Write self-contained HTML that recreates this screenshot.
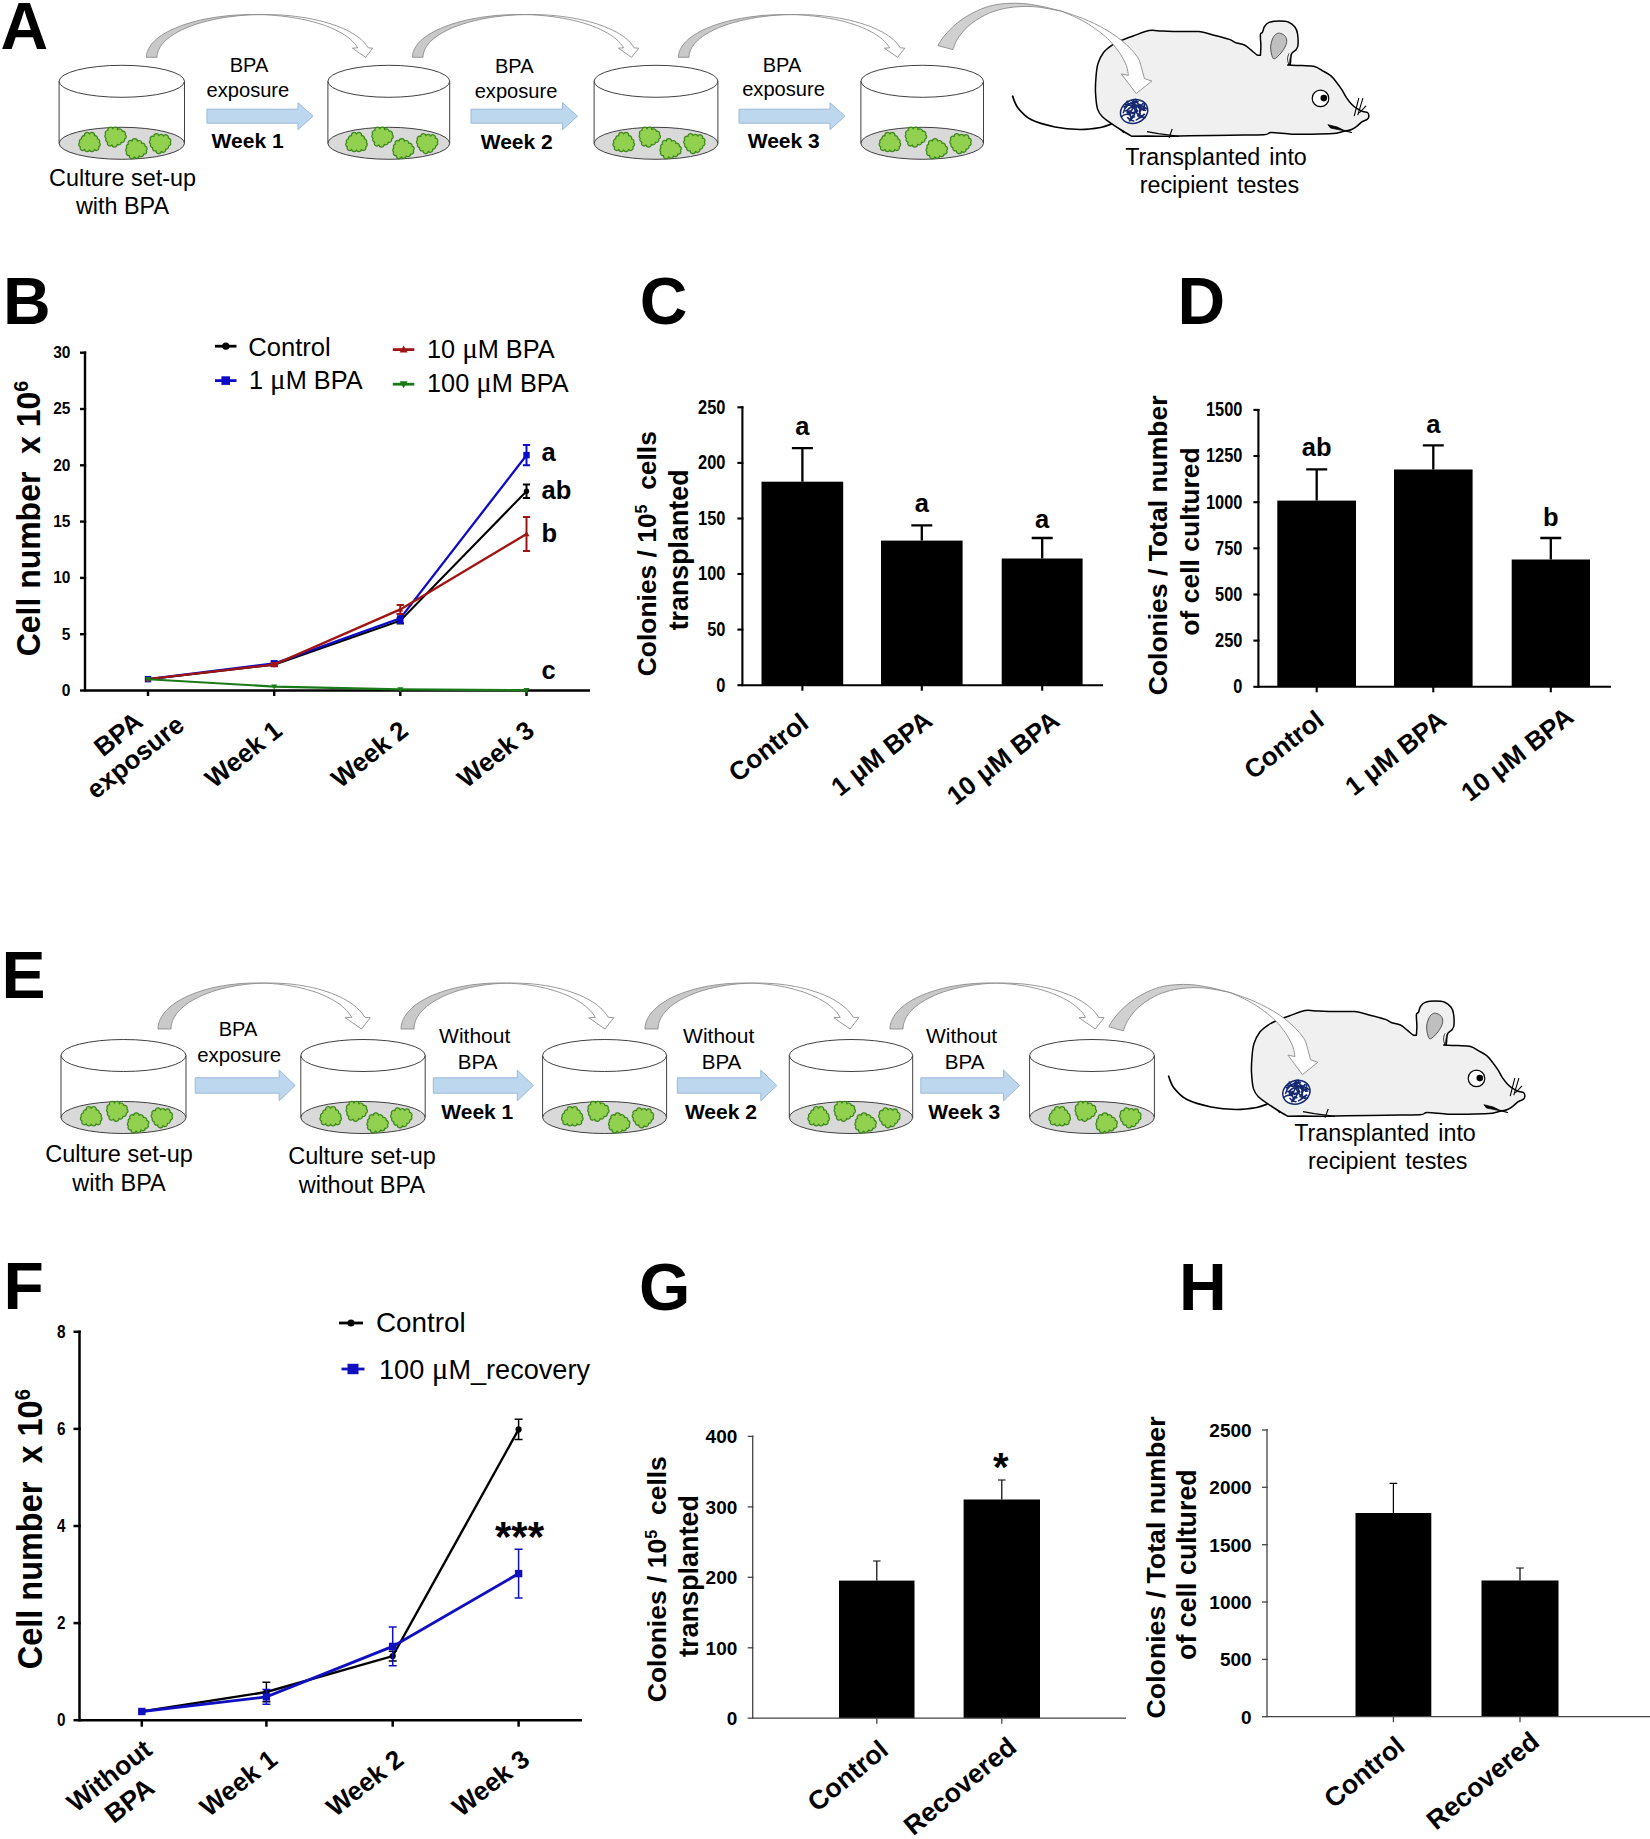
<!DOCTYPE html>
<html><head><meta charset="utf-8"><title>Figure</title>
<style>html,body{margin:0;padding:0;background:#fff}svg{display:block}</style></head>
<body>
<svg width="1650" height="1839" viewBox="0 0 1650 1839">
<rect width="1650" height="1839" fill="#fff"/>
<text x="0.5" y="48.9" font-family='"Liberation Sans", sans-serif' font-size="66.0" font-weight="bold" text-anchor="start" fill="#000">A</text>
<ellipse cx="121.8" cy="143.3" rx="62.7" ry="16.0" fill="#d9d9d9" stroke="#404040" stroke-width="1"/>
<ellipse cx="121.8" cy="81.3" rx="62.7" ry="16.0" fill="#fff" stroke="#404040" stroke-width="1"/>
<path d="M59.1,81.3V143.3 M184.5,81.3V143.3" stroke="#404040" stroke-width="1" fill="none"/>
<path d="M99.3,142.6 A2.5,2.4 0 0 1 98.6,146.8 A2.5,2.4 0 0 1 94.4,149.4 A2.5,2.4 0 0 1 89.5,149.9 A2.5,2.4 0 0 1 84.6,149.4 A2.5,2.4 0 0 1 80.4,146.8 A2.5,2.4 0 0 1 79.7,142.6 A2.5,2.4 0 0 1 81.6,138.9 A2.5,2.4 0 0 1 84.6,135.8 A2.5,2.4 0 0 1 89.5,134.1 A2.5,2.4 0 0 1 94.4,135.8 A2.5,2.4 0 0 1 97.4,138.9 A2.5,2.4 0 0 1 99.3,142.6Z" fill="#92d050" stroke="#3a851a" stroke-width="1.2" stroke-linejoin="round"/>
<path d="M124.5,139.1 A2.5,2.4 0 0 1 121.2,142.1 A2.5,2.4 0 0 1 117.2,144.3 A2.5,2.4 0 0 1 111.9,144.8 A2.5,2.4 0 0 1 107.7,142.1 A2.5,2.4 0 0 1 106.1,138.3 A2.5,2.4 0 0 1 105.7,134.4 A2.5,2.4 0 0 1 107.9,130.5 A2.5,2.4 0 0 1 112.8,128.9 A2.5,2.4 0 0 1 117.7,129.7 A2.5,2.4 0 0 1 122.1,131.4 A2.5,2.4 0 0 1 125.2,134.8 A2.5,2.4 0 0 1 124.5,139.1Z" fill="#92d050" stroke="#3a851a" stroke-width="1.2" stroke-linejoin="round"/>
<path d="M146.3,150.3 A2.5,2.4 0 0 1 143.6,154.0 A2.5,2.4 0 0 1 139.2,155.8 A2.5,2.4 0 0 1 134.4,156.8 A2.5,2.4 0 0 1 129.4,155.6 A2.5,2.4 0 0 1 126.7,151.9 A2.5,2.4 0 0 1 126.9,147.9 A2.5,2.4 0 0 1 128.3,144.1 A2.5,2.4 0 0 1 132.1,141.1 A2.5,2.4 0 0 1 137.4,141.2 A2.5,2.4 0 0 1 141.6,143.3 A2.5,2.4 0 0 1 145.0,146.1 A2.5,2.4 0 0 1 146.3,150.3Z" fill="#92d050" stroke="#3a851a" stroke-width="1.2" stroke-linejoin="round"/>
<path d="M168.5,146.0 A2.5,2.4 0 0 1 165.6,149.1 A2.5,2.4 0 0 1 161.3,151.4 A2.5,2.4 0 0 1 156.0,150.7 A2.5,2.4 0 0 1 152.6,147.6 A2.5,2.4 0 0 1 150.7,144.0 A2.5,2.4 0 0 1 150.5,139.9 A2.5,2.4 0 0 1 153.8,136.5 A2.5,2.4 0 0 1 158.9,135.7 A2.5,2.4 0 0 1 163.6,136.2 A2.5,2.4 0 0 1 168.2,138.1 A2.5,2.4 0 0 1 170.2,142.1 A2.5,2.4 0 0 1 168.5,146.0Z" fill="#92d050" stroke="#3a851a" stroke-width="1.2" stroke-linejoin="round"/>
<ellipse cx="388.8" cy="143.3" rx="60.9" ry="16.0" fill="#d9d9d9" stroke="#404040" stroke-width="1"/>
<ellipse cx="388.8" cy="81.3" rx="60.9" ry="16.0" fill="#fff" stroke="#404040" stroke-width="1"/>
<path d="M327.9,81.3V143.3 M449.7,81.3V143.3" stroke="#404040" stroke-width="1" fill="none"/>
<path d="M366.3,142.6 A2.5,2.4 0 0 1 365.6,146.8 A2.5,2.4 0 0 1 361.4,149.4 A2.5,2.4 0 0 1 356.5,149.9 A2.5,2.4 0 0 1 351.6,149.4 A2.5,2.4 0 0 1 347.4,146.8 A2.5,2.4 0 0 1 346.7,142.6 A2.5,2.4 0 0 1 348.6,138.9 A2.5,2.4 0 0 1 351.6,135.8 A2.5,2.4 0 0 1 356.5,134.1 A2.5,2.4 0 0 1 361.4,135.8 A2.5,2.4 0 0 1 364.4,138.9 A2.5,2.4 0 0 1 366.3,142.6Z" fill="#92d050" stroke="#3a851a" stroke-width="1.2" stroke-linejoin="round"/>
<path d="M391.5,139.1 A2.5,2.4 0 0 1 388.2,142.1 A2.5,2.4 0 0 1 384.2,144.3 A2.5,2.4 0 0 1 378.9,144.8 A2.5,2.4 0 0 1 374.7,142.1 A2.5,2.4 0 0 1 373.1,138.3 A2.5,2.4 0 0 1 372.7,134.4 A2.5,2.4 0 0 1 374.9,130.5 A2.5,2.4 0 0 1 379.8,128.9 A2.5,2.4 0 0 1 384.7,129.7 A2.5,2.4 0 0 1 389.1,131.4 A2.5,2.4 0 0 1 392.2,134.8 A2.5,2.4 0 0 1 391.5,139.1Z" fill="#92d050" stroke="#3a851a" stroke-width="1.2" stroke-linejoin="round"/>
<path d="M413.3,150.3 A2.5,2.4 0 0 1 410.6,154.0 A2.5,2.4 0 0 1 406.2,155.8 A2.5,2.4 0 0 1 401.4,156.8 A2.5,2.4 0 0 1 396.4,155.6 A2.5,2.4 0 0 1 393.7,151.9 A2.5,2.4 0 0 1 393.9,147.9 A2.5,2.4 0 0 1 395.3,144.1 A2.5,2.4 0 0 1 399.1,141.1 A2.5,2.4 0 0 1 404.4,141.2 A2.5,2.4 0 0 1 408.6,143.3 A2.5,2.4 0 0 1 412.0,146.1 A2.5,2.4 0 0 1 413.3,150.3Z" fill="#92d050" stroke="#3a851a" stroke-width="1.2" stroke-linejoin="round"/>
<path d="M435.5,146.0 A2.5,2.4 0 0 1 432.6,149.1 A2.5,2.4 0 0 1 428.3,151.4 A2.5,2.4 0 0 1 423.0,150.7 A2.5,2.4 0 0 1 419.6,147.6 A2.5,2.4 0 0 1 417.7,144.0 A2.5,2.4 0 0 1 417.5,139.9 A2.5,2.4 0 0 1 420.8,136.5 A2.5,2.4 0 0 1 425.9,135.7 A2.5,2.4 0 0 1 430.6,136.2 A2.5,2.4 0 0 1 435.2,138.1 A2.5,2.4 0 0 1 437.2,142.1 A2.5,2.4 0 0 1 435.5,146.0Z" fill="#92d050" stroke="#3a851a" stroke-width="1.2" stroke-linejoin="round"/>
<ellipse cx="656.0" cy="143.3" rx="61.9" ry="16.0" fill="#d9d9d9" stroke="#404040" stroke-width="1"/>
<ellipse cx="656.0" cy="81.3" rx="61.9" ry="16.0" fill="#fff" stroke="#404040" stroke-width="1"/>
<path d="M594.1,81.3V143.3 M717.9,81.3V143.3" stroke="#404040" stroke-width="1" fill="none"/>
<path d="M633.5,142.6 A2.5,2.4 0 0 1 632.8,146.8 A2.5,2.4 0 0 1 628.6,149.4 A2.5,2.4 0 0 1 623.7,149.9 A2.5,2.4 0 0 1 618.8,149.4 A2.5,2.4 0 0 1 614.6,146.8 A2.5,2.4 0 0 1 613.9,142.6 A2.5,2.4 0 0 1 615.8,138.9 A2.5,2.4 0 0 1 618.8,135.8 A2.5,2.4 0 0 1 623.7,134.1 A2.5,2.4 0 0 1 628.6,135.8 A2.5,2.4 0 0 1 631.6,138.9 A2.5,2.4 0 0 1 633.5,142.6Z" fill="#92d050" stroke="#3a851a" stroke-width="1.2" stroke-linejoin="round"/>
<path d="M658.7,139.1 A2.5,2.4 0 0 1 655.4,142.1 A2.5,2.4 0 0 1 651.4,144.3 A2.5,2.4 0 0 1 646.1,144.8 A2.5,2.4 0 0 1 641.9,142.1 A2.5,2.4 0 0 1 640.3,138.3 A2.5,2.4 0 0 1 639.9,134.4 A2.5,2.4 0 0 1 642.1,130.5 A2.5,2.4 0 0 1 647.0,128.9 A2.5,2.4 0 0 1 651.9,129.7 A2.5,2.4 0 0 1 656.3,131.4 A2.5,2.4 0 0 1 659.4,134.8 A2.5,2.4 0 0 1 658.7,139.1Z" fill="#92d050" stroke="#3a851a" stroke-width="1.2" stroke-linejoin="round"/>
<path d="M680.5,150.3 A2.5,2.4 0 0 1 677.8,154.0 A2.5,2.4 0 0 1 673.4,155.8 A2.5,2.4 0 0 1 668.6,156.8 A2.5,2.4 0 0 1 663.6,155.6 A2.5,2.4 0 0 1 660.9,151.9 A2.5,2.4 0 0 1 661.1,147.9 A2.5,2.4 0 0 1 662.5,144.1 A2.5,2.4 0 0 1 666.3,141.1 A2.5,2.4 0 0 1 671.6,141.2 A2.5,2.4 0 0 1 675.8,143.3 A2.5,2.4 0 0 1 679.2,146.1 A2.5,2.4 0 0 1 680.5,150.3Z" fill="#92d050" stroke="#3a851a" stroke-width="1.2" stroke-linejoin="round"/>
<path d="M702.7,146.0 A2.5,2.4 0 0 1 699.8,149.1 A2.5,2.4 0 0 1 695.5,151.4 A2.5,2.4 0 0 1 690.2,150.7 A2.5,2.4 0 0 1 686.8,147.6 A2.5,2.4 0 0 1 684.9,144.0 A2.5,2.4 0 0 1 684.7,139.9 A2.5,2.4 0 0 1 688.0,136.5 A2.5,2.4 0 0 1 693.1,135.7 A2.5,2.4 0 0 1 697.8,136.2 A2.5,2.4 0 0 1 702.4,138.1 A2.5,2.4 0 0 1 704.4,142.1 A2.5,2.4 0 0 1 702.7,146.0Z" fill="#92d050" stroke="#3a851a" stroke-width="1.2" stroke-linejoin="round"/>
<ellipse cx="922.2" cy="143.3" rx="61.3" ry="16.0" fill="#d9d9d9" stroke="#404040" stroke-width="1"/>
<ellipse cx="922.2" cy="81.3" rx="61.3" ry="16.0" fill="#fff" stroke="#404040" stroke-width="1"/>
<path d="M860.9,81.3V143.3 M983.5,81.3V143.3" stroke="#404040" stroke-width="1" fill="none"/>
<path d="M899.7,142.6 A2.5,2.4 0 0 1 899.0,146.8 A2.5,2.4 0 0 1 894.8,149.4 A2.5,2.4 0 0 1 889.9,149.9 A2.5,2.4 0 0 1 885.0,149.4 A2.5,2.4 0 0 1 880.8,146.8 A2.5,2.4 0 0 1 880.1,142.6 A2.5,2.4 0 0 1 882.0,138.9 A2.5,2.4 0 0 1 885.0,135.8 A2.5,2.4 0 0 1 889.9,134.1 A2.5,2.4 0 0 1 894.8,135.8 A2.5,2.4 0 0 1 897.8,138.9 A2.5,2.4 0 0 1 899.7,142.6Z" fill="#92d050" stroke="#3a851a" stroke-width="1.2" stroke-linejoin="round"/>
<path d="M924.9,139.1 A2.5,2.4 0 0 1 921.6,142.1 A2.5,2.4 0 0 1 917.6,144.3 A2.5,2.4 0 0 1 912.3,144.8 A2.5,2.4 0 0 1 908.1,142.1 A2.5,2.4 0 0 1 906.5,138.3 A2.5,2.4 0 0 1 906.1,134.4 A2.5,2.4 0 0 1 908.3,130.5 A2.5,2.4 0 0 1 913.2,128.9 A2.5,2.4 0 0 1 918.1,129.7 A2.5,2.4 0 0 1 922.5,131.4 A2.5,2.4 0 0 1 925.6,134.8 A2.5,2.4 0 0 1 924.9,139.1Z" fill="#92d050" stroke="#3a851a" stroke-width="1.2" stroke-linejoin="round"/>
<path d="M946.7,150.3 A2.5,2.4 0 0 1 944.0,154.0 A2.5,2.4 0 0 1 939.6,155.8 A2.5,2.4 0 0 1 934.8,156.8 A2.5,2.4 0 0 1 929.8,155.6 A2.5,2.4 0 0 1 927.1,151.9 A2.5,2.4 0 0 1 927.3,147.9 A2.5,2.4 0 0 1 928.7,144.1 A2.5,2.4 0 0 1 932.5,141.1 A2.5,2.4 0 0 1 937.8,141.2 A2.5,2.4 0 0 1 942.0,143.3 A2.5,2.4 0 0 1 945.4,146.1 A2.5,2.4 0 0 1 946.7,150.3Z" fill="#92d050" stroke="#3a851a" stroke-width="1.2" stroke-linejoin="round"/>
<path d="M968.9,146.0 A2.5,2.4 0 0 1 966.0,149.1 A2.5,2.4 0 0 1 961.7,151.4 A2.5,2.4 0 0 1 956.4,150.7 A2.5,2.4 0 0 1 953.0,147.6 A2.5,2.4 0 0 1 951.1,144.0 A2.5,2.4 0 0 1 950.9,139.9 A2.5,2.4 0 0 1 954.2,136.5 A2.5,2.4 0 0 1 959.3,135.7 A2.5,2.4 0 0 1 964.0,136.2 A2.5,2.4 0 0 1 968.6,138.1 A2.5,2.4 0 0 1 970.6,142.1 A2.5,2.4 0 0 1 968.9,146.0Z" fill="#92d050" stroke="#3a851a" stroke-width="1.2" stroke-linejoin="round"/>
<path d="M206.9,109.2 H298.0 V102.7 L313.0,116.2 L298.0,129.7 V123.2 H206.9 Z" fill="#bdd7ee" stroke="#9db9d9" stroke-width="1"/>
<text x="249.0" y="71.7" font-family='"Liberation Sans", sans-serif' font-size="20.0" text-anchor="middle" fill="#000">BPA</text>
<text x="247.9" y="96.8" font-family='"Liberation Sans", sans-serif' font-size="20.1" text-anchor="middle" fill="#000">exposure</text>
<text x="247.6" y="148.0" font-family='"Liberation Sans", sans-serif' font-size="21.0" font-weight="bold" text-anchor="middle" fill="#000">Week 1</text>
<path d="M471.0,109.2 H562.5 V102.7 L577.5,116.2 L562.5,129.7 V123.2 H471.0 Z" fill="#bdd7ee" stroke="#9db9d9" stroke-width="1"/>
<text x="514.3" y="72.5" font-family='"Liberation Sans", sans-serif' font-size="20.0" text-anchor="middle" fill="#000">BPA</text>
<text x="516.0" y="98.1" font-family='"Liberation Sans", sans-serif' font-size="20.1" text-anchor="middle" fill="#000">exposure</text>
<text x="516.7" y="148.8" font-family='"Liberation Sans", sans-serif' font-size="21.0" font-weight="bold" text-anchor="middle" fill="#000">Week 2</text>
<path d="M739.0,109.2 H830.0 V102.7 L845.0,116.2 L830.0,129.7 V123.2 H739.0 Z" fill="#bdd7ee" stroke="#9db9d9" stroke-width="1"/>
<text x="782.0" y="71.5" font-family='"Liberation Sans", sans-serif' font-size="20.0" text-anchor="middle" fill="#000">BPA</text>
<text x="783.5" y="96.0" font-family='"Liberation Sans", sans-serif' font-size="20.1" text-anchor="middle" fill="#000">exposure</text>
<text x="783.7" y="147.5" font-family='"Liberation Sans", sans-serif' font-size="21.0" font-weight="bold" text-anchor="middle" fill="#000">Week 3</text>
<path d="M146.4,57.3 L146.6,54.4 L147.4,51.5 L148.6,48.7 L150.3,45.9 L152.4,43.1 L155.1,40.4 L158.1,37.8 L161.6,35.3 L165.5,32.9 L169.9,30.5 L174.6,28.4 L179.6,26.3 L185.0,24.4 L190.7,22.6 L196.7,21.0 L203.0,19.5 L209.4,18.3 L216.1,17.2 L223.0,16.3 L230.0,15.5 L237.1,15.0 L244.2,14.7 L251.4,14.5 L258.6,14.6 L258.6,14.6 L251.9,14.8 L245.2,15.2 L238.6,15.7 L232.0,16.5 L225.6,17.3 L219.4,18.4 L213.3,19.6 L207.4,21.0 L201.8,22.5 L196.4,24.1 L191.3,25.9 L186.5,27.8 L182.0,29.8 L177.8,32.0 L173.9,34.2 L170.5,36.5 L167.4,38.9 L164.6,41.4 L162.3,44.0 L160.4,46.6 L158.9,49.2 L157.9,51.9 L157.2,54.6 L157.0,57.3Z" fill="#c9c9c9" stroke="#8c8c8c" stroke-width="0.9" stroke-linejoin="round"/>
<path d="M258.6,14.6 L264.9,14.5 L271.1,14.6 L277.3,14.8 L283.4,15.2 L289.5,15.7 L295.5,16.4 L301.4,17.2 L307.1,18.1 L312.7,19.2 L318.2,20.4 L323.5,21.7 L328.5,23.2 L333.4,24.7 L338.0,26.4 L342.3,28.2 L346.4,30.1 L350.3,32.0 L353.8,34.1 L357.0,36.2 L359.9,38.4 L362.5,40.7 L364.7,43.0 L366.6,45.4 L368.2,47.8 L372.8,48.2 L365.6,57.3 L352.4,48.2 L357.6,47.8 L356.2,45.5 L354.4,43.3 L352.4,41.2 L350.1,39.0 L347.5,37.0 L344.6,35.0 L341.4,33.0 L338.0,31.2 L334.4,29.4 L330.5,27.7 L326.4,26.0 L322.1,24.5 L317.5,23.1 L312.8,21.7 L307.9,20.5 L302.9,19.4 L297.7,18.4 L292.4,17.5 L287.0,16.7 L281.4,16.0 L275.8,15.5 L270.1,15.0 L264.4,14.7 L258.6,14.6Z" fill="#fff" stroke="#8c8c8c" stroke-width="0.9" stroke-linejoin="round"/>
<path d="M412.4,57.3 L412.6,54.4 L413.4,51.5 L414.6,48.7 L416.3,45.9 L418.4,43.1 L421.1,40.4 L424.1,37.8 L427.6,35.3 L431.5,32.9 L435.9,30.5 L440.6,28.4 L445.6,26.3 L451.0,24.4 L456.7,22.6 L462.7,21.0 L469.0,19.5 L475.4,18.3 L482.1,17.2 L489.0,16.3 L496.0,15.5 L503.1,15.0 L510.2,14.7 L517.4,14.5 L524.7,14.6 L524.7,14.6 L517.9,14.8 L511.2,15.2 L504.6,15.7 L498.0,16.5 L491.6,17.3 L485.4,18.4 L479.3,19.6 L473.4,21.0 L467.8,22.5 L462.4,24.1 L457.3,25.9 L452.5,27.8 L448.0,29.8 L443.8,32.0 L439.9,34.2 L436.5,36.5 L433.4,38.9 L430.6,41.4 L428.3,44.0 L426.4,46.6 L424.9,49.2 L423.9,51.9 L423.2,54.6 L423.0,57.3Z" fill="#c9c9c9" stroke="#8c8c8c" stroke-width="0.9" stroke-linejoin="round"/>
<path d="M524.7,14.6 L530.9,14.5 L537.1,14.6 L543.3,14.8 L549.4,15.2 L555.5,15.7 L561.5,16.4 L567.4,17.2 L573.1,18.1 L578.7,19.2 L584.2,20.4 L589.5,21.7 L594.5,23.2 L599.4,24.7 L604.0,26.4 L608.3,28.2 L612.4,30.1 L616.3,32.0 L619.8,34.1 L623.0,36.2 L625.9,38.4 L628.5,40.7 L630.7,43.0 L632.6,45.4 L634.2,47.8 L638.8,48.2 L631.6,57.3 L618.4,48.2 L623.6,47.8 L622.2,45.5 L620.4,43.3 L618.4,41.2 L616.1,39.0 L613.5,37.0 L610.6,35.0 L607.4,33.0 L604.0,31.2 L600.4,29.4 L596.5,27.7 L592.4,26.0 L588.1,24.5 L583.5,23.1 L578.8,21.7 L573.9,20.5 L568.9,19.4 L563.7,18.4 L558.4,17.5 L553.0,16.7 L547.4,16.0 L541.8,15.5 L536.1,15.0 L530.4,14.7 L524.7,14.6Z" fill="#fff" stroke="#8c8c8c" stroke-width="0.9" stroke-linejoin="round"/>
<path d="M678.4,57.3 L678.6,54.4 L679.4,51.5 L680.6,48.7 L682.3,45.9 L684.4,43.1 L687.1,40.4 L690.1,37.8 L693.6,35.3 L697.5,32.9 L701.9,30.5 L706.6,28.4 L711.6,26.3 L717.0,24.4 L722.7,22.6 L728.7,21.0 L735.0,19.5 L741.4,18.3 L748.1,17.2 L755.0,16.3 L762.0,15.5 L769.1,15.0 L776.2,14.7 L783.4,14.5 L790.7,14.6 L790.7,14.6 L783.9,14.8 L777.2,15.2 L770.6,15.7 L764.0,16.5 L757.6,17.3 L751.4,18.4 L745.3,19.6 L739.4,21.0 L733.8,22.5 L728.4,24.1 L723.3,25.9 L718.5,27.8 L714.0,29.8 L709.8,32.0 L705.9,34.2 L702.5,36.5 L699.4,38.9 L696.6,41.4 L694.3,44.0 L692.4,46.6 L690.9,49.2 L689.9,51.9 L689.2,54.6 L689.0,57.3Z" fill="#c9c9c9" stroke="#8c8c8c" stroke-width="0.9" stroke-linejoin="round"/>
<path d="M790.7,14.6 L796.9,14.5 L803.1,14.6 L809.3,14.8 L815.4,15.2 L821.5,15.7 L827.5,16.4 L833.4,17.2 L839.1,18.1 L844.7,19.2 L850.2,20.4 L855.5,21.7 L860.5,23.2 L865.4,24.7 L870.0,26.4 L874.3,28.2 L878.4,30.1 L882.3,32.0 L885.8,34.1 L889.0,36.2 L891.9,38.4 L894.5,40.7 L896.7,43.0 L898.6,45.4 L900.2,47.8 L904.8,48.2 L897.6,57.3 L884.4,48.2 L889.6,47.8 L888.2,45.5 L886.4,43.3 L884.4,41.2 L882.1,39.0 L879.5,37.0 L876.6,35.0 L873.4,33.0 L870.0,31.2 L866.4,29.4 L862.5,27.7 L858.4,26.0 L854.1,24.5 L849.5,23.1 L844.8,21.7 L839.9,20.5 L834.9,19.4 L829.7,18.4 L824.4,17.5 L819.0,16.7 L813.4,16.0 L807.8,15.5 L802.1,15.0 L796.4,14.7 L790.7,14.6Z" fill="#fff" stroke="#8c8c8c" stroke-width="0.9" stroke-linejoin="round"/>
<text x="122.5" y="186.0" font-family='"Liberation Sans", sans-serif' font-size="23.4" text-anchor="middle" fill="#000">Culture set-up</text>
<text x="122.5" y="214.0" font-family='"Liberation Sans", sans-serif' font-size="23.4" text-anchor="middle" fill="#000">with BPA</text>
<g transform="translate(0.0,0.0)">
<path d="M1012.6,96.2 C1013.5,98.2 1014.9,104.1 1018.0,108.0 C1021.1,111.9 1024.8,116.4 1031.0,119.6 C1037.2,122.8 1046.8,125.3 1055.0,127.0 C1063.2,128.7 1072.4,129.4 1080.0,129.5 C1087.6,129.6 1095.3,128.4 1100.6,127.5 C1105.9,126.5 1110.0,124.4 1111.9,123.8" fill="none" stroke="#000" stroke-width="1.7" stroke-linecap="round"/>
<path d="M1131.5,136.2 C1129.8,135.2 1124.5,132.1 1121.2,130.0 C1117.9,127.9 1115.0,126.0 1111.9,123.8 C1108.8,121.6 1105.1,119.6 1102.7,117.1 C1100.3,114.6 1098.7,113.0 1097.5,108.9 C1096.3,104.8 1095.8,97.7 1095.5,92.4 C1095.2,87.1 1095.6,81.8 1096.0,77.0 C1096.4,72.2 1096.7,67.7 1098.0,63.6 C1099.3,59.5 1101.2,55.4 1103.7,52.2 C1106.2,49.0 1110.1,46.5 1113.0,44.5 C1115.9,42.5 1117.8,41.9 1121.2,40.4 C1124.6,38.9 1129.0,37.4 1133.6,35.8 C1138.2,34.2 1144.2,31.4 1149.0,30.6 C1153.8,29.8 1156.7,30.9 1162.4,31.1 C1168.1,31.3 1177.0,31.5 1183.0,31.6 C1189.0,31.7 1193.3,31.0 1198.5,31.6 C1203.7,32.2 1208.8,33.9 1214.0,35.2 C1219.2,36.5 1225.9,38.2 1229.4,39.4 C1232.9,40.6 1232.7,41.6 1235.2,42.5 C1237.7,43.4 1241.8,43.8 1244.4,45.0 C1247.0,46.2 1248.5,48.1 1250.6,49.7 C1252.7,51.3 1255.2,53.9 1256.8,54.8 C1258.4,55.7 1259.8,55.2 1260.4,55.3 L1260.4,55.3 C1260.5,53.8 1260.9,49.4 1260.9,46.0 C1260.9,42.6 1260.1,37.0 1260.4,34.7 C1260.7,32.4 1261.8,33.6 1262.5,32.2 C1263.2,30.8 1263.4,28.1 1264.5,26.5 C1265.6,24.9 1266.7,23.3 1269.2,22.4 C1271.7,21.5 1276.2,21.1 1279.5,21.1 C1282.8,21.1 1286.1,21.2 1288.7,22.2 C1291.3,23.2 1293.4,25.1 1294.9,27.0 C1296.4,28.9 1297.0,30.7 1297.5,33.7 C1298.0,36.7 1298.2,42.3 1298.0,45.0 C1297.8,47.7 1297.0,48.3 1296.0,49.7 C1295.0,51.1 1292.7,51.8 1291.8,53.3 C1290.9,54.8 1291.0,56.7 1290.8,58.4 C1290.5,60.1 1290.8,62.5 1290.3,63.6 C1289.8,64.7 1288.1,64.8 1287.7,65.1 L1287.7,65.1 C1290.1,65.2 1297.6,65.4 1302.1,65.6 C1306.6,65.8 1311.1,65.6 1314.5,66.5 C1317.9,67.4 1320.0,69.2 1322.7,70.8 C1325.5,72.4 1328.6,73.8 1331.0,75.9 C1333.4,78.0 1335.3,80.8 1337.2,83.2 C1339.1,85.6 1340.8,88.0 1342.3,90.4 C1343.8,92.8 1344.9,95.3 1346.4,97.6 C1348.0,99.9 1349.9,102.5 1351.6,104.3 C1353.3,106.1 1354.8,107.2 1356.7,108.4 C1358.6,109.6 1361.1,110.8 1362.9,111.5 C1364.7,112.2 1366.5,111.7 1367.5,112.5 C1368.5,113.3 1368.9,115.0 1368.9,116.1 C1368.9,117.2 1368.7,118.2 1367.5,119.2 C1366.3,120.2 1363.7,120.6 1361.9,121.8 C1360.1,123.0 1358.4,125.1 1356.7,126.4 C1355.0,127.7 1353.1,128.8 1351.6,129.5 C1350.1,130.2 1349.2,130.1 1347.5,130.5 C1345.8,130.9 1343.7,131.6 1341.3,132.1 C1338.9,132.6 1337.8,133.2 1333.0,133.6 C1328.2,133.9 1319.3,134.1 1312.4,134.2 C1305.5,134.3 1298.7,134.5 1291.8,134.2 C1284.9,133.9 1275.8,132.5 1271.2,132.6 C1266.6,132.7 1270.9,134.3 1264.0,134.7 C1257.1,135.1 1242.3,135.0 1230.0,135.2 C1217.7,135.4 1200.2,135.6 1190.0,135.8 C1179.8,136.0 1176.2,136.3 1169.0,136.3 C1161.8,136.3 1150.7,136.1 1147.0,136.0 Z" fill="#f0f0f0" stroke="#000" stroke-width="1.5" stroke-linejoin="round"/>
<path d="M1279.5,33.2 C1281.0,33.4 1283.3,34.4 1284.5,35.5 C1285.7,36.6 1286.5,38.2 1286.7,40.0 C1286.9,41.8 1286.5,43.8 1285.5,46.0 C1284.5,48.2 1282.9,50.9 1281.0,53.0 C1279.1,55.1 1275.9,58.7 1274.3,58.9 C1272.7,59.1 1272.1,56.1 1271.5,54.0 C1270.9,51.9 1270.5,48.5 1270.7,46.0 C1270.9,43.5 1271.7,40.9 1272.5,39.0 C1273.3,37.1 1274.3,35.5 1275.5,34.5 C1276.7,33.5 1278.0,33.0 1279.5,33.2Z" fill="#bfbfbf" stroke="#444" stroke-width="0.9"/>
<path d="M1289.2,53.3 C1287,57 1287.2,61 1289,64.5 C1290,60 1290,57 1291,54" stroke="#000" stroke-width="0.8" fill="#fff"/>
<circle cx="1320.5" cy="98.4" r="8.3" fill="#fff" stroke="#000" stroke-width="1.2"/>
<circle cx="1323.8" cy="98.1" r="3.3" fill="#000"/>
<path d="M1327.9,124.7 L1337.2,127 L1343.3,130 L1352,132.6 L1343.3,130.6 L1330.5,128 Z" fill="#000" stroke="#000" stroke-width="0.8" stroke-linejoin="round"/>
<path d="M1358.8,98.1 L1354.2,116.1 M1362.9,98.1 L1357.8,115.1 M1366,105.8 L1359.3,113" stroke="#000" stroke-width="1.1" fill="none"/>
<path d="M1121.2,130 L1123.8,133 M1147,131.6 L1158.3,133.6 L1179,136.2 M1172.2,129 L1169,137.8" stroke="#000" stroke-width="1.1" fill="none"/>
<g transform="translate(1134.1,111.5) rotate(-22)">
<ellipse cx="0" cy="0" rx="13.9" ry="11.6" fill="#fff" stroke="#14286e" stroke-width="1.5"/>
<path d="M-3.4,-8.2Q-7.8,-6.7 -10.4,-3.0M1.2,-5.1Q0.8,-0.6 2.2,3.6M2.8,-4.8Q2.8,-1.8 3.3,1.2M-3.5,-2.4Q-2.7,1.5 1.2,1.4M2.7,-5.3Q0.0,-4.3 -1.8,-2.0M3.0,-0.9Q1.0,1.8 -2.4,1.4M7.7,-4.4Q10.2,-0.8 13.1,2.5M1.6,-4.5Q-2.7,-6.5 -6.0,-3.1M3.6,-5.7Q6.7,-4.0 6.0,-0.6M6.4,-0.3Q4.6,1.7 4.8,4.4M-0.4,2.5Q-2.7,5.3 -6.2,6.3M-13.7,0.1Q-8.8,-1.9 -4.9,1.7M-4.1,-8.8Q0.0,-9.3 4.1,-8.3M-3.8,-0.8Q-1.3,2.3 1.9,-0.0M7.5,6.7Q3.4,8.5 -1.1,8.6M-2.9,3.6Q-5.9,4.2 -7.0,7.1M-1.3,-8.7Q3.3,-10.7 7.4,-7.7M-1.6,5.3Q-5.4,3.6 -7.8,6.9M-7.6,-3.8Q-3.9,-2.8 -4.4,0.9M8.3,6.2Q5.5,8.9 2.7,6.2M7.3,-3.4Q7.6,-0.4 9.0,2.3M2.8,-8.1Q1.1,-5.0 4.1,-3.0M10.1,-0.0Q7.0,0.1 5.3,2.7M10.6,-4.0Q8.7,-2.0 6.3,-0.6M4.0,4.2Q3.7,8.7 8.1,9.6M6.1,-10.8Q5.3,-7.1 7.1,-3.9M-6.8,-2.0Q-5.3,0.4 -5.1,3.3M12.3,-3.9Q11.8,-0.3 9.6,2.6M8.2,-0.1Q5.5,3.2 1.7,5.3M4.4,-11.1Q0.9,-8.9 0.0,-4.8M-8.3,3.2Q-7.4,6.9 -3.9,8.6M1.5,-5.3Q-2.3,-5.2 -5.9,-4.0M5.5,-2.2Q8.4,0.3 11.0,3.2M6.2,-8.7Q3.1,-7.5 1.1,-4.9M-2.7,-12.2Q-2.8,-7.4 1.1,-4.7M-0.7,-9.0Q-4.2,-8.7 -7.7,-8.0M8.5,6.7Q4.9,6.2 1.8,8.0M-5.3,-9.9Q-2.1,-7.4 1.7,-5.7" fill="none" stroke="#16286e" stroke-width="1.6" stroke-linecap="round"/>
</g>
</g>
<path d="M937.9,45.6 C939.0,44.0 941.0,39.8 944.2,36.0 C947.4,32.2 952.4,26.8 957.3,22.9 C962.2,19.0 968.1,15.3 973.6,12.5 C979.1,9.7 984.5,7.5 990.0,6.0 C995.5,4.5 1000.9,3.9 1006.4,3.5 C1011.9,3.1 1017.1,3.1 1022.7,3.5 C1028.3,3.9 1035.1,5.1 1040.0,6.0 C1044.9,6.9 1048.4,7.9 1052.1,8.8 C1055.8,9.7 1060.3,10.9 1062.0,11.3 L1062.0,11.3 C1059.7,10.9 1052.7,9.4 1048.0,8.6 C1043.3,7.8 1038.7,6.9 1033.6,6.6 C1028.5,6.3 1022.7,6.3 1017.3,6.8 C1011.9,7.2 1006.5,7.9 1001.0,9.3 C995.5,10.7 990.0,12.5 984.5,15.3 C979.0,18.1 972.7,22.2 968.2,26.2 C963.7,30.2 959.8,35.4 957.3,39.3 C954.8,43.2 953.6,47.9 952.9,49.6 Z" fill="#d0d0d0" stroke="#8a8a8a" stroke-width="0.9" stroke-linejoin="round"/>
<path d="M1062.0,11.3 C1064.4,12.1 1072.0,14.5 1076.4,16.1 C1080.8,17.7 1084.5,19.1 1088.5,20.9 C1092.5,22.7 1096.6,24.5 1100.6,26.7 C1104.6,28.9 1109.2,31.6 1112.7,33.9 C1116.2,36.2 1118.8,38.1 1121.8,40.6 C1124.8,43.1 1128.2,46.2 1130.9,49.1 C1133.6,52.0 1136.4,55.1 1138.2,58.2 C1140.0,61.3 1140.5,64.3 1141.5,67.7 C1142.5,71.1 1143.9,76.7 1144.4,78.5  L1151.8,81.1 L1136.2,93.5 L1121.2,73.9  L1128.4,75.4 C1128.1,73.8 1127.7,69.1 1126.4,65.6 C1125.1,62.1 1122.4,57.5 1120.6,54.5 C1118.8,51.5 1117.6,50.2 1115.8,47.9 C1114.0,45.6 1112.2,43.1 1109.7,40.6 C1107.2,38.1 1104.1,35.4 1100.6,32.7 C1097.1,30.0 1092.5,26.7 1088.5,24.2 C1084.5,21.7 1080.8,19.8 1076.4,17.6 C1072.0,15.5 1064.4,12.4 1062.0,11.3 Z" fill="#fff" stroke="#8a8a8a" stroke-width="0.9" stroke-linejoin="round"/>
<text x="1216.0" y="164.6" font-family='"Liberation Sans", sans-serif' font-size="23.3" text-anchor="middle" fill="#000" word-spacing="2.5">Transplanted into</text>
<text x="1219.4" y="192.8" font-family='"Liberation Sans", sans-serif' font-size="23.3" text-anchor="middle" fill="#000" word-spacing="2.7">recipient testes</text>
<text x="1.5" y="997.5" font-family='"Liberation Sans", sans-serif' font-size="66.0" font-weight="bold" text-anchor="start" fill="#000">E</text>
<ellipse cx="123.5" cy="1117.5" rx="62.5" ry="16.0" fill="#d9d9d9" stroke="#404040" stroke-width="1"/>
<ellipse cx="123.5" cy="1055.5" rx="62.5" ry="16.0" fill="#fff" stroke="#404040" stroke-width="1"/>
<path d="M61.0,1055.5V1117.5 M186.0,1055.5V1117.5" stroke="#404040" stroke-width="1" fill="none"/>
<path d="M101.0,1116.8 A2.5,2.4 0 0 1 100.3,1121.0 A2.5,2.4 0 0 1 96.1,1123.6 A2.5,2.4 0 0 1 91.2,1124.1 A2.5,2.4 0 0 1 86.3,1123.6 A2.5,2.4 0 0 1 82.1,1121.0 A2.5,2.4 0 0 1 81.4,1116.8 A2.5,2.4 0 0 1 83.3,1113.1 A2.5,2.4 0 0 1 86.3,1110.0 A2.5,2.4 0 0 1 91.2,1108.3 A2.5,2.4 0 0 1 96.1,1110.0 A2.5,2.4 0 0 1 99.1,1113.1 A2.5,2.4 0 0 1 101.0,1116.8Z" fill="#92d050" stroke="#3a851a" stroke-width="1.2" stroke-linejoin="round"/>
<path d="M126.2,1113.3 A2.5,2.4 0 0 1 122.9,1116.3 A2.5,2.4 0 0 1 118.9,1118.5 A2.5,2.4 0 0 1 113.6,1119.0 A2.5,2.4 0 0 1 109.4,1116.3 A2.5,2.4 0 0 1 107.8,1112.5 A2.5,2.4 0 0 1 107.4,1108.6 A2.5,2.4 0 0 1 109.6,1104.7 A2.5,2.4 0 0 1 114.5,1103.1 A2.5,2.4 0 0 1 119.4,1103.9 A2.5,2.4 0 0 1 123.8,1105.6 A2.5,2.4 0 0 1 126.9,1109.0 A2.5,2.4 0 0 1 126.2,1113.3Z" fill="#92d050" stroke="#3a851a" stroke-width="1.2" stroke-linejoin="round"/>
<path d="M148.0,1124.5 A2.5,2.4 0 0 1 145.3,1128.2 A2.5,2.4 0 0 1 140.9,1130.0 A2.5,2.4 0 0 1 136.1,1131.0 A2.5,2.4 0 0 1 131.1,1129.8 A2.5,2.4 0 0 1 128.4,1126.1 A2.5,2.4 0 0 1 128.6,1122.1 A2.5,2.4 0 0 1 130.0,1118.3 A2.5,2.4 0 0 1 133.8,1115.3 A2.5,2.4 0 0 1 139.1,1115.4 A2.5,2.4 0 0 1 143.3,1117.5 A2.5,2.4 0 0 1 146.7,1120.3 A2.5,2.4 0 0 1 148.0,1124.5Z" fill="#92d050" stroke="#3a851a" stroke-width="1.2" stroke-linejoin="round"/>
<path d="M170.2,1120.2 A2.5,2.4 0 0 1 167.3,1123.3 A2.5,2.4 0 0 1 163.0,1125.6 A2.5,2.4 0 0 1 157.7,1124.9 A2.5,2.4 0 0 1 154.3,1121.8 A2.5,2.4 0 0 1 152.4,1118.2 A2.5,2.4 0 0 1 152.2,1114.1 A2.5,2.4 0 0 1 155.5,1110.7 A2.5,2.4 0 0 1 160.6,1109.9 A2.5,2.4 0 0 1 165.3,1110.4 A2.5,2.4 0 0 1 169.9,1112.3 A2.5,2.4 0 0 1 171.9,1116.3 A2.5,2.4 0 0 1 170.2,1120.2Z" fill="#92d050" stroke="#3a851a" stroke-width="1.2" stroke-linejoin="round"/>
<ellipse cx="363.0" cy="1117.5" rx="62.2" ry="16.0" fill="#d9d9d9" stroke="#404040" stroke-width="1"/>
<ellipse cx="363.0" cy="1055.5" rx="62.2" ry="16.0" fill="#fff" stroke="#404040" stroke-width="1"/>
<path d="M300.8,1055.5V1117.5 M425.2,1055.5V1117.5" stroke="#404040" stroke-width="1" fill="none"/>
<path d="M340.5,1116.8 A2.5,2.4 0 0 1 339.8,1121.0 A2.5,2.4 0 0 1 335.6,1123.6 A2.5,2.4 0 0 1 330.7,1124.1 A2.5,2.4 0 0 1 325.8,1123.6 A2.5,2.4 0 0 1 321.6,1121.0 A2.5,2.4 0 0 1 320.9,1116.8 A2.5,2.4 0 0 1 322.8,1113.1 A2.5,2.4 0 0 1 325.8,1110.0 A2.5,2.4 0 0 1 330.7,1108.3 A2.5,2.4 0 0 1 335.6,1110.0 A2.5,2.4 0 0 1 338.6,1113.1 A2.5,2.4 0 0 1 340.5,1116.8Z" fill="#92d050" stroke="#3a851a" stroke-width="1.2" stroke-linejoin="round"/>
<path d="M365.7,1113.3 A2.5,2.4 0 0 1 362.4,1116.3 A2.5,2.4 0 0 1 358.4,1118.5 A2.5,2.4 0 0 1 353.1,1119.0 A2.5,2.4 0 0 1 348.9,1116.3 A2.5,2.4 0 0 1 347.3,1112.5 A2.5,2.4 0 0 1 346.9,1108.6 A2.5,2.4 0 0 1 349.1,1104.7 A2.5,2.4 0 0 1 354.0,1103.1 A2.5,2.4 0 0 1 358.9,1103.9 A2.5,2.4 0 0 1 363.3,1105.6 A2.5,2.4 0 0 1 366.4,1109.0 A2.5,2.4 0 0 1 365.7,1113.3Z" fill="#92d050" stroke="#3a851a" stroke-width="1.2" stroke-linejoin="round"/>
<path d="M387.5,1124.5 A2.5,2.4 0 0 1 384.8,1128.2 A2.5,2.4 0 0 1 380.4,1130.0 A2.5,2.4 0 0 1 375.6,1131.0 A2.5,2.4 0 0 1 370.6,1129.8 A2.5,2.4 0 0 1 367.9,1126.1 A2.5,2.4 0 0 1 368.1,1122.1 A2.5,2.4 0 0 1 369.5,1118.3 A2.5,2.4 0 0 1 373.3,1115.3 A2.5,2.4 0 0 1 378.6,1115.4 A2.5,2.4 0 0 1 382.8,1117.5 A2.5,2.4 0 0 1 386.2,1120.3 A2.5,2.4 0 0 1 387.5,1124.5Z" fill="#92d050" stroke="#3a851a" stroke-width="1.2" stroke-linejoin="round"/>
<path d="M409.7,1120.2 A2.5,2.4 0 0 1 406.8,1123.3 A2.5,2.4 0 0 1 402.5,1125.6 A2.5,2.4 0 0 1 397.2,1124.9 A2.5,2.4 0 0 1 393.8,1121.8 A2.5,2.4 0 0 1 391.9,1118.2 A2.5,2.4 0 0 1 391.7,1114.1 A2.5,2.4 0 0 1 395.0,1110.7 A2.5,2.4 0 0 1 400.1,1109.9 A2.5,2.4 0 0 1 404.8,1110.4 A2.5,2.4 0 0 1 409.4,1112.3 A2.5,2.4 0 0 1 411.4,1116.3 A2.5,2.4 0 0 1 409.7,1120.2Z" fill="#92d050" stroke="#3a851a" stroke-width="1.2" stroke-linejoin="round"/>
<ellipse cx="604.6" cy="1117.5" rx="62.0" ry="16.0" fill="#d9d9d9" stroke="#404040" stroke-width="1"/>
<ellipse cx="604.6" cy="1055.5" rx="62.0" ry="16.0" fill="#fff" stroke="#404040" stroke-width="1"/>
<path d="M542.6,1055.5V1117.5 M666.6,1055.5V1117.5" stroke="#404040" stroke-width="1" fill="none"/>
<path d="M582.1,1116.8 A2.5,2.4 0 0 1 581.4,1121.0 A2.5,2.4 0 0 1 577.2,1123.6 A2.5,2.4 0 0 1 572.3,1124.1 A2.5,2.4 0 0 1 567.4,1123.6 A2.5,2.4 0 0 1 563.2,1121.0 A2.5,2.4 0 0 1 562.5,1116.8 A2.5,2.4 0 0 1 564.4,1113.1 A2.5,2.4 0 0 1 567.4,1110.0 A2.5,2.4 0 0 1 572.3,1108.3 A2.5,2.4 0 0 1 577.2,1110.0 A2.5,2.4 0 0 1 580.2,1113.1 A2.5,2.4 0 0 1 582.1,1116.8Z" fill="#92d050" stroke="#3a851a" stroke-width="1.2" stroke-linejoin="round"/>
<path d="M607.3,1113.3 A2.5,2.4 0 0 1 604.0,1116.3 A2.5,2.4 0 0 1 600.0,1118.5 A2.5,2.4 0 0 1 594.7,1119.0 A2.5,2.4 0 0 1 590.5,1116.3 A2.5,2.4 0 0 1 588.9,1112.5 A2.5,2.4 0 0 1 588.5,1108.6 A2.5,2.4 0 0 1 590.7,1104.7 A2.5,2.4 0 0 1 595.6,1103.1 A2.5,2.4 0 0 1 600.5,1103.9 A2.5,2.4 0 0 1 604.9,1105.6 A2.5,2.4 0 0 1 608.0,1109.0 A2.5,2.4 0 0 1 607.3,1113.3Z" fill="#92d050" stroke="#3a851a" stroke-width="1.2" stroke-linejoin="round"/>
<path d="M629.1,1124.5 A2.5,2.4 0 0 1 626.4,1128.2 A2.5,2.4 0 0 1 622.0,1130.0 A2.5,2.4 0 0 1 617.2,1131.0 A2.5,2.4 0 0 1 612.2,1129.8 A2.5,2.4 0 0 1 609.5,1126.1 A2.5,2.4 0 0 1 609.7,1122.1 A2.5,2.4 0 0 1 611.1,1118.3 A2.5,2.4 0 0 1 614.9,1115.3 A2.5,2.4 0 0 1 620.2,1115.4 A2.5,2.4 0 0 1 624.4,1117.5 A2.5,2.4 0 0 1 627.8,1120.3 A2.5,2.4 0 0 1 629.1,1124.5Z" fill="#92d050" stroke="#3a851a" stroke-width="1.2" stroke-linejoin="round"/>
<path d="M651.3,1120.2 A2.5,2.4 0 0 1 648.4,1123.3 A2.5,2.4 0 0 1 644.1,1125.6 A2.5,2.4 0 0 1 638.8,1124.9 A2.5,2.4 0 0 1 635.4,1121.8 A2.5,2.4 0 0 1 633.5,1118.2 A2.5,2.4 0 0 1 633.3,1114.1 A2.5,2.4 0 0 1 636.6,1110.7 A2.5,2.4 0 0 1 641.7,1109.9 A2.5,2.4 0 0 1 646.4,1110.4 A2.5,2.4 0 0 1 651.0,1112.3 A2.5,2.4 0 0 1 653.0,1116.3 A2.5,2.4 0 0 1 651.3,1120.2Z" fill="#92d050" stroke="#3a851a" stroke-width="1.2" stroke-linejoin="round"/>
<ellipse cx="851.0" cy="1117.5" rx="61.7" ry="16.0" fill="#d9d9d9" stroke="#404040" stroke-width="1"/>
<ellipse cx="851.0" cy="1055.5" rx="61.7" ry="16.0" fill="#fff" stroke="#404040" stroke-width="1"/>
<path d="M789.3,1055.5V1117.5 M912.7,1055.5V1117.5" stroke="#404040" stroke-width="1" fill="none"/>
<path d="M828.5,1116.8 A2.5,2.4 0 0 1 827.8,1121.0 A2.5,2.4 0 0 1 823.6,1123.6 A2.5,2.4 0 0 1 818.7,1124.1 A2.5,2.4 0 0 1 813.8,1123.6 A2.5,2.4 0 0 1 809.6,1121.0 A2.5,2.4 0 0 1 808.9,1116.8 A2.5,2.4 0 0 1 810.8,1113.1 A2.5,2.4 0 0 1 813.8,1110.0 A2.5,2.4 0 0 1 818.7,1108.3 A2.5,2.4 0 0 1 823.6,1110.0 A2.5,2.4 0 0 1 826.6,1113.1 A2.5,2.4 0 0 1 828.5,1116.8Z" fill="#92d050" stroke="#3a851a" stroke-width="1.2" stroke-linejoin="round"/>
<path d="M853.7,1113.3 A2.5,2.4 0 0 1 850.4,1116.3 A2.5,2.4 0 0 1 846.4,1118.5 A2.5,2.4 0 0 1 841.1,1119.0 A2.5,2.4 0 0 1 836.9,1116.3 A2.5,2.4 0 0 1 835.3,1112.5 A2.5,2.4 0 0 1 834.9,1108.6 A2.5,2.4 0 0 1 837.1,1104.7 A2.5,2.4 0 0 1 842.0,1103.1 A2.5,2.4 0 0 1 846.9,1103.9 A2.5,2.4 0 0 1 851.3,1105.6 A2.5,2.4 0 0 1 854.4,1109.0 A2.5,2.4 0 0 1 853.7,1113.3Z" fill="#92d050" stroke="#3a851a" stroke-width="1.2" stroke-linejoin="round"/>
<path d="M875.5,1124.5 A2.5,2.4 0 0 1 872.8,1128.2 A2.5,2.4 0 0 1 868.4,1130.0 A2.5,2.4 0 0 1 863.6,1131.0 A2.5,2.4 0 0 1 858.6,1129.8 A2.5,2.4 0 0 1 855.9,1126.1 A2.5,2.4 0 0 1 856.1,1122.1 A2.5,2.4 0 0 1 857.5,1118.3 A2.5,2.4 0 0 1 861.3,1115.3 A2.5,2.4 0 0 1 866.6,1115.4 A2.5,2.4 0 0 1 870.8,1117.5 A2.5,2.4 0 0 1 874.2,1120.3 A2.5,2.4 0 0 1 875.5,1124.5Z" fill="#92d050" stroke="#3a851a" stroke-width="1.2" stroke-linejoin="round"/>
<path d="M897.7,1120.2 A2.5,2.4 0 0 1 894.8,1123.3 A2.5,2.4 0 0 1 890.5,1125.6 A2.5,2.4 0 0 1 885.2,1124.9 A2.5,2.4 0 0 1 881.8,1121.8 A2.5,2.4 0 0 1 879.9,1118.2 A2.5,2.4 0 0 1 879.7,1114.1 A2.5,2.4 0 0 1 883.0,1110.7 A2.5,2.4 0 0 1 888.1,1109.9 A2.5,2.4 0 0 1 892.8,1110.4 A2.5,2.4 0 0 1 897.4,1112.3 A2.5,2.4 0 0 1 899.4,1116.3 A2.5,2.4 0 0 1 897.7,1120.2Z" fill="#92d050" stroke="#3a851a" stroke-width="1.2" stroke-linejoin="round"/>
<ellipse cx="1092.0" cy="1117.5" rx="62.4" ry="16.0" fill="#d9d9d9" stroke="#404040" stroke-width="1"/>
<ellipse cx="1092.0" cy="1055.5" rx="62.4" ry="16.0" fill="#fff" stroke="#404040" stroke-width="1"/>
<path d="M1029.6,1055.5V1117.5 M1154.4,1055.5V1117.5" stroke="#404040" stroke-width="1" fill="none"/>
<path d="M1069.5,1116.8 A2.5,2.4 0 0 1 1068.8,1121.0 A2.5,2.4 0 0 1 1064.6,1123.6 A2.5,2.4 0 0 1 1059.7,1124.1 A2.5,2.4 0 0 1 1054.8,1123.6 A2.5,2.4 0 0 1 1050.6,1121.0 A2.5,2.4 0 0 1 1049.9,1116.8 A2.5,2.4 0 0 1 1051.8,1113.1 A2.5,2.4 0 0 1 1054.8,1110.0 A2.5,2.4 0 0 1 1059.7,1108.3 A2.5,2.4 0 0 1 1064.6,1110.0 A2.5,2.4 0 0 1 1067.6,1113.1 A2.5,2.4 0 0 1 1069.5,1116.8Z" fill="#92d050" stroke="#3a851a" stroke-width="1.2" stroke-linejoin="round"/>
<path d="M1094.7,1113.3 A2.5,2.4 0 0 1 1091.4,1116.3 A2.5,2.4 0 0 1 1087.4,1118.5 A2.5,2.4 0 0 1 1082.1,1119.0 A2.5,2.4 0 0 1 1077.9,1116.3 A2.5,2.4 0 0 1 1076.3,1112.5 A2.5,2.4 0 0 1 1075.9,1108.6 A2.5,2.4 0 0 1 1078.1,1104.7 A2.5,2.4 0 0 1 1083.0,1103.1 A2.5,2.4 0 0 1 1087.9,1103.9 A2.5,2.4 0 0 1 1092.3,1105.6 A2.5,2.4 0 0 1 1095.4,1109.0 A2.5,2.4 0 0 1 1094.7,1113.3Z" fill="#92d050" stroke="#3a851a" stroke-width="1.2" stroke-linejoin="round"/>
<path d="M1116.5,1124.5 A2.5,2.4 0 0 1 1113.8,1128.2 A2.5,2.4 0 0 1 1109.4,1130.0 A2.5,2.4 0 0 1 1104.6,1131.0 A2.5,2.4 0 0 1 1099.6,1129.8 A2.5,2.4 0 0 1 1096.9,1126.1 A2.5,2.4 0 0 1 1097.1,1122.1 A2.5,2.4 0 0 1 1098.5,1118.3 A2.5,2.4 0 0 1 1102.3,1115.3 A2.5,2.4 0 0 1 1107.6,1115.4 A2.5,2.4 0 0 1 1111.8,1117.5 A2.5,2.4 0 0 1 1115.2,1120.3 A2.5,2.4 0 0 1 1116.5,1124.5Z" fill="#92d050" stroke="#3a851a" stroke-width="1.2" stroke-linejoin="round"/>
<path d="M1138.7,1120.2 A2.5,2.4 0 0 1 1135.8,1123.3 A2.5,2.4 0 0 1 1131.5,1125.6 A2.5,2.4 0 0 1 1126.2,1124.9 A2.5,2.4 0 0 1 1122.8,1121.8 A2.5,2.4 0 0 1 1120.9,1118.2 A2.5,2.4 0 0 1 1120.7,1114.1 A2.5,2.4 0 0 1 1124.0,1110.7 A2.5,2.4 0 0 1 1129.1,1109.9 A2.5,2.4 0 0 1 1133.8,1110.4 A2.5,2.4 0 0 1 1138.4,1112.3 A2.5,2.4 0 0 1 1140.4,1116.3 A2.5,2.4 0 0 1 1138.7,1120.2Z" fill="#92d050" stroke="#3a851a" stroke-width="1.2" stroke-linejoin="round"/>
<path d="M195.2,1077.8 H279.2 V1070.1 L295.2,1085.5 L279.2,1100.9 V1093.2 H195.2 Z" fill="#bdd7ee" stroke="#9db9d9" stroke-width="1"/>
<text x="238.0" y="1036.0" font-family='"Liberation Sans", sans-serif' font-size="20.0" text-anchor="middle" fill="#000">BPA</text>
<text x="239.1" y="1062.0" font-family='"Liberation Sans", sans-serif' font-size="20.4" text-anchor="middle" fill="#000">exposure</text>
<path d="M433.3,1077.8 H517.3 V1070.1 L533.3,1085.5 L517.3,1100.9 V1093.2 H433.3 Z" fill="#bdd7ee" stroke="#9db9d9" stroke-width="1"/>
<text x="474.7" y="1042.7" font-family='"Liberation Sans", sans-serif' font-size="21.0" text-anchor="middle" fill="#000">Without</text>
<text x="477.7" y="1068.8" font-family='"Liberation Sans", sans-serif' font-size="20.6" text-anchor="middle" fill="#000">BPA</text>
<text x="477.3" y="1118.7" font-family='"Liberation Sans", sans-serif' font-size="21.0" font-weight="bold" text-anchor="middle" fill="#000">Week 1</text>
<path d="M677.3,1077.8 H760.8 V1070.1 L776.8,1085.5 L760.8,1100.9 V1093.2 H677.3 Z" fill="#bdd7ee" stroke="#9db9d9" stroke-width="1"/>
<text x="718.7" y="1042.7" font-family='"Liberation Sans", sans-serif' font-size="21.0" text-anchor="middle" fill="#000">Without</text>
<text x="721.5" y="1068.6" font-family='"Liberation Sans", sans-serif' font-size="20.6" text-anchor="middle" fill="#000">BPA</text>
<text x="720.9" y="1118.7" font-family='"Liberation Sans", sans-serif' font-size="21.0" font-weight="bold" text-anchor="middle" fill="#000">Week 2</text>
<path d="M920.8,1077.8 H1003.5 V1070.1 L1019.5,1085.5 L1003.5,1100.9 V1093.2 H920.8 Z" fill="#bdd7ee" stroke="#9db9d9" stroke-width="1"/>
<text x="961.6" y="1042.7" font-family='"Liberation Sans", sans-serif' font-size="21.0" text-anchor="middle" fill="#000">Without</text>
<text x="964.7" y="1068.6" font-family='"Liberation Sans", sans-serif' font-size="20.6" text-anchor="middle" fill="#000">BPA</text>
<text x="964.3" y="1118.7" font-family='"Liberation Sans", sans-serif' font-size="21.0" font-weight="bold" text-anchor="middle" fill="#000">Week 3</text>
<path d="M158.0,1029.0 L158.2,1025.9 L158.9,1022.7 L160.1,1019.7 L161.6,1016.6 L163.7,1013.6 L166.1,1010.7 L169.0,1007.9 L172.3,1005.1 L176.0,1002.5 L180.0,1000.0 L184.4,997.6 L189.2,995.4 L194.2,993.4 L199.6,991.5 L205.2,989.7 L211.1,988.2 L217.1,986.8 L223.4,985.7 L229.8,984.7 L236.3,984.0 L242.9,983.4 L249.6,983.1 L256.3,983.0 L263.0,983.1 L263.0,983.1 L256.9,983.4 L250.8,983.8 L244.7,984.5 L238.8,985.3 L233.0,986.3 L227.3,987.4 L221.9,988.7 L216.5,990.2 L211.4,991.8 L206.6,993.6 L201.9,995.5 L197.6,997.6 L193.5,999.7 L189.7,1002.0 L186.3,1004.4 L183.1,1006.9 L180.3,1009.5 L177.9,1012.1 L175.8,1014.8 L174.1,1017.6 L172.7,1020.4 L171.8,1023.2 L171.2,1026.1 L171.0,1029.0Z" fill="#c9c9c9" stroke="#8c8c8c" stroke-width="0.9" stroke-linejoin="round"/>
<path d="M263.0,983.1 L268.7,983.0 L274.3,983.1 L280.0,983.3 L285.6,983.6 L291.1,984.1 L296.6,984.8 L302.0,985.6 L307.3,986.5 L312.5,987.6 L317.5,988.8 L322.3,990.2 L327.0,991.7 L331.5,993.3 L335.8,995.0 L339.9,996.8 L343.7,998.8 L347.3,1000.8 L350.7,1002.9 L353.8,1005.2 L356.5,1007.5 L359.0,1009.8 L361.3,1012.3 L363.2,1014.8 L364.8,1017.3 L370.3,1017.7 L361.5,1029.0 L345.2,1017.7 L351.8,1017.3 L350.3,1015.0 L348.6,1012.7 L346.7,1010.5 L344.5,1008.4 L342.1,1006.3 L339.5,1004.2 L336.6,1002.2 L333.5,1000.3 L330.2,998.5 L326.7,996.7 L323.0,995.1 L319.2,993.5 L315.2,992.0 L311.0,990.7 L306.6,989.4 L302.2,988.2 L297.6,987.2 L292.8,986.2 L288.0,985.4 L283.1,984.7 L278.2,984.1 L273.2,983.7 L268.1,983.3 L263.0,983.1Z" fill="#fff" stroke="#8c8c8c" stroke-width="0.9" stroke-linejoin="round"/>
<path d="M401.0,1029.0 L401.2,1025.9 L401.9,1022.7 L403.1,1019.7 L404.7,1016.6 L406.7,1013.6 L409.2,1010.7 L412.0,1007.9 L415.3,1005.1 L419.0,1002.5 L423.1,1000.0 L427.5,997.6 L432.3,995.4 L437.3,993.4 L442.7,991.5 L448.3,989.7 L454.2,988.2 L460.3,986.8 L466.5,985.7 L472.9,984.7 L479.5,984.0 L486.1,983.4 L492.8,983.1 L499.5,983.0 L506.2,983.1 L506.2,983.1 L500.1,983.4 L494.0,983.8 L487.9,984.5 L482.0,985.3 L476.2,986.3 L470.5,987.4 L465.0,988.7 L459.7,990.2 L454.6,991.8 L449.7,993.6 L445.0,995.5 L440.7,997.6 L436.6,999.7 L432.8,1002.0 L429.3,1004.4 L426.2,1006.9 L423.4,1009.5 L420.9,1012.1 L418.8,1014.8 L417.1,1017.6 L415.7,1020.4 L414.8,1023.2 L414.2,1026.1 L414.0,1029.0Z" fill="#c9c9c9" stroke="#8c8c8c" stroke-width="0.9" stroke-linejoin="round"/>
<path d="M506.2,983.1 L511.9,983.0 L517.6,983.1 L523.3,983.3 L528.9,983.6 L534.4,984.1 L539.9,984.8 L545.4,985.6 L550.7,986.5 L555.8,987.6 L560.9,988.8 L565.7,990.2 L570.4,991.7 L574.9,993.3 L579.3,995.0 L583.3,996.8 L587.2,998.8 L590.8,1000.8 L594.1,1002.9 L597.2,1005.2 L600.0,1007.5 L602.5,1009.8 L604.7,1012.3 L606.7,1014.8 L608.3,1017.3 L613.8,1017.7 L605.0,1029.0 L588.8,1017.7 L595.3,1017.3 L593.8,1015.0 L592.1,1012.7 L590.2,1010.5 L588.0,1008.4 L585.6,1006.3 L582.9,1004.2 L580.1,1002.2 L577.0,1000.3 L573.7,998.5 L570.2,996.7 L566.5,995.1 L562.6,993.5 L558.5,992.0 L554.3,990.7 L550.0,989.4 L545.5,988.2 L540.9,987.2 L536.2,986.2 L531.4,985.4 L526.5,984.7 L521.5,984.1 L516.4,983.7 L511.4,983.3 L506.2,983.1Z" fill="#fff" stroke="#8c8c8c" stroke-width="0.9" stroke-linejoin="round"/>
<path d="M645.0,1029.0 L645.2,1025.9 L645.9,1022.7 L647.1,1019.7 L648.7,1016.6 L650.7,1013.6 L653.2,1010.7 L656.1,1007.9 L659.4,1005.1 L663.1,1002.5 L667.2,1000.0 L671.6,997.6 L676.4,995.4 L681.5,993.4 L686.9,991.5 L692.5,989.7 L698.4,988.2 L704.5,986.8 L710.8,985.7 L717.3,984.7 L723.8,984.0 L730.5,983.4 L737.2,983.1 L744.0,983.0 L750.8,983.1 L750.8,983.1 L744.6,983.4 L738.4,983.8 L732.3,984.5 L726.4,985.3 L720.5,986.3 L714.8,987.4 L709.3,988.7 L703.9,990.2 L698.8,991.8 L693.9,993.6 L689.2,995.5 L684.8,997.6 L680.7,999.7 L676.9,1002.0 L673.4,1004.4 L670.2,1006.9 L667.4,1009.4 L664.9,1012.1 L662.8,1014.8 L661.1,1017.6 L659.8,1020.4 L658.8,1023.2 L658.2,1026.1 L658.0,1029.0Z" fill="#c9c9c9" stroke="#8c8c8c" stroke-width="0.9" stroke-linejoin="round"/>
<path d="M750.8,983.1 L756.4,983.0 L762.2,983.1 L767.8,983.3 L773.5,983.6 L779.1,984.1 L784.6,984.8 L790.0,985.6 L795.4,986.5 L800.6,987.6 L805.6,988.8 L810.5,990.2 L815.2,991.7 L819.8,993.3 L824.1,995.0 L828.2,996.8 L832.1,998.8 L835.7,1000.8 L839.1,1003.0 L842.1,1005.2 L845.0,1007.5 L847.5,1009.8 L849.7,1012.3 L851.6,1014.8 L853.2,1017.3 L858.8,1017.7 L850.0,1029.0 L833.8,1017.7 L840.2,1017.3 L838.8,1015.0 L837.1,1012.7 L835.1,1010.5 L833.0,1008.4 L830.5,1006.3 L827.9,1004.2 L825.0,1002.2 L821.8,1000.3 L818.5,998.5 L815.0,996.7 L811.3,995.1 L807.4,993.5 L803.3,992.0 L799.1,990.7 L794.7,989.4 L790.2,988.2 L785.6,987.2 L780.8,986.2 L776.0,985.4 L771.1,984.7 L766.1,984.1 L761.0,983.7 L755.9,983.3 L750.8,983.1Z" fill="#fff" stroke="#8c8c8c" stroke-width="0.9" stroke-linejoin="round"/>
<path d="M890.0,1029.0 L890.2,1025.9 L890.9,1022.7 L892.1,1019.7 L893.7,1016.6 L895.7,1013.6 L898.2,1010.7 L901.1,1007.9 L904.4,1005.1 L908.1,1002.5 L912.2,1000.0 L916.7,997.6 L921.5,995.4 L926.6,993.4 L931.9,991.5 L937.6,989.7 L943.5,988.2 L949.6,986.8 L955.9,985.7 L962.4,984.7 L968.9,984.0 L975.6,983.4 L982.4,983.1 L989.1,983.0 L995.9,983.1 L995.9,983.1 L989.7,983.4 L983.5,983.8 L977.5,984.5 L971.5,985.3 L965.6,986.3 L959.9,987.4 L954.4,988.7 L949.0,990.2 L943.8,991.8 L938.9,993.6 L934.3,995.5 L929.9,997.6 L925.7,999.7 L921.9,1002.0 L918.4,1004.4 L915.3,1006.9 L912.4,1009.4 L910.0,1012.1 L907.8,1014.8 L906.1,1017.6 L904.8,1020.4 L903.8,1023.2 L903.2,1026.1 L903.0,1029.0Z" fill="#c9c9c9" stroke="#8c8c8c" stroke-width="0.9" stroke-linejoin="round"/>
<path d="M995.9,983.1 L1001.6,983.0 L1007.3,983.1 L1013.0,983.3 L1018.7,983.6 L1024.3,984.1 L1029.8,984.8 L1035.2,985.6 L1040.6,986.5 L1045.8,987.6 L1050.9,988.8 L1055.8,990.2 L1060.5,991.7 L1065.0,993.3 L1069.4,995.0 L1073.5,996.8 L1077.3,998.8 L1081.0,1000.8 L1084.3,1003.0 L1087.4,1005.2 L1090.2,1007.5 L1092.8,1009.8 L1095.0,1012.3 L1096.9,1014.8 L1098.5,1017.3 L1104.1,1017.7 L1095.3,1029.0 L1079.0,1017.7 L1085.5,1017.3 L1084.1,1015.0 L1082.4,1012.7 L1080.4,1010.5 L1078.2,1008.4 L1075.8,1006.3 L1073.1,1004.2 L1070.2,1002.2 L1067.1,1000.3 L1063.8,998.5 L1060.3,996.7 L1056.5,995.1 L1052.6,993.5 L1048.6,992.0 L1044.3,990.7 L1040.0,989.4 L1035.4,988.2 L1030.8,987.2 L1026.0,986.2 L1021.2,985.4 L1016.2,984.7 L1011.2,984.1 L1006.2,983.7 L1001.0,983.3 L995.9,983.1Z" fill="#fff" stroke="#8c8c8c" stroke-width="0.9" stroke-linejoin="round"/>
<text x="119.0" y="1162.0" font-family='"Liberation Sans", sans-serif' font-size="23.5" text-anchor="middle" fill="#000">Culture set-up</text>
<text x="119.0" y="1191.0" font-family='"Liberation Sans", sans-serif' font-size="23.5" text-anchor="middle" fill="#000">with BPA</text>
<text x="362.0" y="1164.0" font-family='"Liberation Sans", sans-serif' font-size="23.5" text-anchor="middle" fill="#000">Culture set-up</text>
<text x="362.0" y="1193.0" font-family='"Liberation Sans", sans-serif' font-size="23.5" text-anchor="middle" fill="#000">without BPA</text>
<g transform="translate(156.0,980.0)">
<path d="M1012.6,96.2 C1013.5,98.2 1014.9,104.1 1018.0,108.0 C1021.1,111.9 1024.8,116.4 1031.0,119.6 C1037.2,122.8 1046.8,125.3 1055.0,127.0 C1063.2,128.7 1072.4,129.4 1080.0,129.5 C1087.6,129.6 1095.3,128.4 1100.6,127.5 C1105.9,126.5 1110.0,124.4 1111.9,123.8" fill="none" stroke="#000" stroke-width="1.7" stroke-linecap="round"/>
<path d="M1131.5,136.2 C1129.8,135.2 1124.5,132.1 1121.2,130.0 C1117.9,127.9 1115.0,126.0 1111.9,123.8 C1108.8,121.6 1105.1,119.6 1102.7,117.1 C1100.3,114.6 1098.7,113.0 1097.5,108.9 C1096.3,104.8 1095.8,97.7 1095.5,92.4 C1095.2,87.1 1095.6,81.8 1096.0,77.0 C1096.4,72.2 1096.7,67.7 1098.0,63.6 C1099.3,59.5 1101.2,55.4 1103.7,52.2 C1106.2,49.0 1110.1,46.5 1113.0,44.5 C1115.9,42.5 1117.8,41.9 1121.2,40.4 C1124.6,38.9 1129.0,37.4 1133.6,35.8 C1138.2,34.2 1144.2,31.4 1149.0,30.6 C1153.8,29.8 1156.7,30.9 1162.4,31.1 C1168.1,31.3 1177.0,31.5 1183.0,31.6 C1189.0,31.7 1193.3,31.0 1198.5,31.6 C1203.7,32.2 1208.8,33.9 1214.0,35.2 C1219.2,36.5 1225.9,38.2 1229.4,39.4 C1232.9,40.6 1232.7,41.6 1235.2,42.5 C1237.7,43.4 1241.8,43.8 1244.4,45.0 C1247.0,46.2 1248.5,48.1 1250.6,49.7 C1252.7,51.3 1255.2,53.9 1256.8,54.8 C1258.4,55.7 1259.8,55.2 1260.4,55.3 L1260.4,55.3 C1260.5,53.8 1260.9,49.4 1260.9,46.0 C1260.9,42.6 1260.1,37.0 1260.4,34.7 C1260.7,32.4 1261.8,33.6 1262.5,32.2 C1263.2,30.8 1263.4,28.1 1264.5,26.5 C1265.6,24.9 1266.7,23.3 1269.2,22.4 C1271.7,21.5 1276.2,21.1 1279.5,21.1 C1282.8,21.1 1286.1,21.2 1288.7,22.2 C1291.3,23.2 1293.4,25.1 1294.9,27.0 C1296.4,28.9 1297.0,30.7 1297.5,33.7 C1298.0,36.7 1298.2,42.3 1298.0,45.0 C1297.8,47.7 1297.0,48.3 1296.0,49.7 C1295.0,51.1 1292.7,51.8 1291.8,53.3 C1290.9,54.8 1291.0,56.7 1290.8,58.4 C1290.5,60.1 1290.8,62.5 1290.3,63.6 C1289.8,64.7 1288.1,64.8 1287.7,65.1 L1287.7,65.1 C1290.1,65.2 1297.6,65.4 1302.1,65.6 C1306.6,65.8 1311.1,65.6 1314.5,66.5 C1317.9,67.4 1320.0,69.2 1322.7,70.8 C1325.5,72.4 1328.6,73.8 1331.0,75.9 C1333.4,78.0 1335.3,80.8 1337.2,83.2 C1339.1,85.6 1340.8,88.0 1342.3,90.4 C1343.8,92.8 1344.9,95.3 1346.4,97.6 C1348.0,99.9 1349.9,102.5 1351.6,104.3 C1353.3,106.1 1354.8,107.2 1356.7,108.4 C1358.6,109.6 1361.1,110.8 1362.9,111.5 C1364.7,112.2 1366.5,111.7 1367.5,112.5 C1368.5,113.3 1368.9,115.0 1368.9,116.1 C1368.9,117.2 1368.7,118.2 1367.5,119.2 C1366.3,120.2 1363.7,120.6 1361.9,121.8 C1360.1,123.0 1358.4,125.1 1356.7,126.4 C1355.0,127.7 1353.1,128.8 1351.6,129.5 C1350.1,130.2 1349.2,130.1 1347.5,130.5 C1345.8,130.9 1343.7,131.6 1341.3,132.1 C1338.9,132.6 1337.8,133.2 1333.0,133.6 C1328.2,133.9 1319.3,134.1 1312.4,134.2 C1305.5,134.3 1298.7,134.5 1291.8,134.2 C1284.9,133.9 1275.8,132.5 1271.2,132.6 C1266.6,132.7 1270.9,134.3 1264.0,134.7 C1257.1,135.1 1242.3,135.0 1230.0,135.2 C1217.7,135.4 1200.2,135.6 1190.0,135.8 C1179.8,136.0 1176.2,136.3 1169.0,136.3 C1161.8,136.3 1150.7,136.1 1147.0,136.0 Z" fill="#f0f0f0" stroke="#000" stroke-width="1.5" stroke-linejoin="round"/>
<path d="M1279.5,33.2 C1281.0,33.4 1283.3,34.4 1284.5,35.5 C1285.7,36.6 1286.5,38.2 1286.7,40.0 C1286.9,41.8 1286.5,43.8 1285.5,46.0 C1284.5,48.2 1282.9,50.9 1281.0,53.0 C1279.1,55.1 1275.9,58.7 1274.3,58.9 C1272.7,59.1 1272.1,56.1 1271.5,54.0 C1270.9,51.9 1270.5,48.5 1270.7,46.0 C1270.9,43.5 1271.7,40.9 1272.5,39.0 C1273.3,37.1 1274.3,35.5 1275.5,34.5 C1276.7,33.5 1278.0,33.0 1279.5,33.2Z" fill="#bfbfbf" stroke="#444" stroke-width="0.9"/>
<path d="M1289.2,53.3 C1287,57 1287.2,61 1289,64.5 C1290,60 1290,57 1291,54" stroke="#000" stroke-width="0.8" fill="#fff"/>
<circle cx="1320.5" cy="98.4" r="8.3" fill="#fff" stroke="#000" stroke-width="1.2"/>
<circle cx="1323.8" cy="98.1" r="3.3" fill="#000"/>
<path d="M1327.9,124.7 L1337.2,127 L1343.3,130 L1352,132.6 L1343.3,130.6 L1330.5,128 Z" fill="#000" stroke="#000" stroke-width="0.8" stroke-linejoin="round"/>
<path d="M1358.8,98.1 L1354.2,116.1 M1362.9,98.1 L1357.8,115.1 M1366,105.8 L1359.3,113" stroke="#000" stroke-width="1.1" fill="none"/>
<path d="M1121.2,130 L1123.8,133 M1147,131.6 L1158.3,133.6 L1179,136.2 M1172.2,129 L1169,137.8" stroke="#000" stroke-width="1.1" fill="none"/>
<g transform="translate(1140.4,112.3) rotate(-22)">
<ellipse cx="0" cy="0" rx="13.9" ry="11.6" fill="#fff" stroke="#14286e" stroke-width="1.5"/>
<path d="M-3.4,-8.2Q-7.8,-6.7 -10.4,-3.0M1.2,-5.1Q0.8,-0.6 2.2,3.6M2.8,-4.8Q2.8,-1.8 3.3,1.2M-3.5,-2.4Q-2.7,1.5 1.2,1.4M2.7,-5.3Q0.0,-4.3 -1.8,-2.0M3.0,-0.9Q1.0,1.8 -2.4,1.4M7.7,-4.4Q10.2,-0.8 13.1,2.5M1.6,-4.5Q-2.7,-6.5 -6.0,-3.1M3.6,-5.7Q6.7,-4.0 6.0,-0.6M6.4,-0.3Q4.6,1.7 4.8,4.4M-0.4,2.5Q-2.7,5.3 -6.2,6.3M-13.7,0.1Q-8.8,-1.9 -4.9,1.7M-4.1,-8.8Q0.0,-9.3 4.1,-8.3M-3.8,-0.8Q-1.3,2.3 1.9,-0.0M7.5,6.7Q3.4,8.5 -1.1,8.6M-2.9,3.6Q-5.9,4.2 -7.0,7.1M-1.3,-8.7Q3.3,-10.7 7.4,-7.7M-1.6,5.3Q-5.4,3.6 -7.8,6.9M-7.6,-3.8Q-3.9,-2.8 -4.4,0.9M8.3,6.2Q5.5,8.9 2.7,6.2M7.3,-3.4Q7.6,-0.4 9.0,2.3M2.8,-8.1Q1.1,-5.0 4.1,-3.0M10.1,-0.0Q7.0,0.1 5.3,2.7M10.6,-4.0Q8.7,-2.0 6.3,-0.6M4.0,4.2Q3.7,8.7 8.1,9.6M6.1,-10.8Q5.3,-7.1 7.1,-3.9M-6.8,-2.0Q-5.3,0.4 -5.1,3.3M12.3,-3.9Q11.8,-0.3 9.6,2.6M8.2,-0.1Q5.5,3.2 1.7,5.3M4.4,-11.1Q0.9,-8.9 0.0,-4.8M-8.3,3.2Q-7.4,6.9 -3.9,8.6M1.5,-5.3Q-2.3,-5.2 -5.9,-4.0M5.5,-2.2Q8.4,0.3 11.0,3.2M6.2,-8.7Q3.1,-7.5 1.1,-4.9M-2.7,-12.2Q-2.8,-7.4 1.1,-4.7M-0.7,-9.0Q-4.2,-8.7 -7.7,-8.0M8.5,6.7Q4.9,6.2 1.8,8.0M-5.3,-9.9Q-2.1,-7.4 1.7,-5.7" fill="none" stroke="#16286e" stroke-width="1.6" stroke-linecap="round"/>
</g>
</g>
<path d="M1108.8,1026.8 C1109.8,1025.2 1111.8,1021.0 1114.9,1017.2 C1118.1,1013.4 1122.9,1008.0 1127.7,1004.1 C1132.5,1000.2 1138.3,996.5 1143.7,993.7 C1149.0,990.9 1154.3,988.7 1159.7,987.2 C1165.0,985.7 1170.4,985.1 1175.7,984.7 C1181.0,984.3 1186.2,984.3 1191.6,984.7 C1197.1,985.1 1203.7,986.3 1208.5,987.2 C1213.3,988.1 1216.8,989.1 1220.3,990.0 C1223.9,990.9 1228.4,992.1 1230.0,992.5 L1230.0,992.5 C1227.7,992.0 1221.0,990.6 1216.3,989.8 C1211.7,989.0 1207.3,988.1 1202.3,987.8 C1197.3,987.5 1191.7,987.5 1186.3,988.0 C1181.0,988.5 1175.8,989.1 1170.4,990.5 C1165.1,991.9 1159.6,993.7 1154.3,996.5 C1149.0,999.3 1142.8,1003.4 1138.4,1007.4 C1133.9,1011.4 1130.2,1016.6 1127.7,1020.5 C1125.2,1024.4 1124.1,1029.1 1123.4,1030.8 Z" fill="#d0d0d0" stroke="#8a8a8a" stroke-width="0.9" stroke-linejoin="round"/>
<path d="M1230.0,992.5 C1232.4,993.3 1239.8,995.7 1244.1,997.3 C1248.4,998.9 1252.0,1000.3 1255.9,1002.1 C1259.9,1003.9 1263.8,1005.7 1267.7,1007.9 C1271.7,1010.1 1276.1,1012.8 1279.6,1015.1 C1283.0,1017.4 1285.5,1019.3 1288.4,1021.8 C1291.4,1024.3 1294.7,1027.4 1297.3,1030.3 C1300.0,1033.2 1302.7,1036.3 1304.5,1039.4 C1306.2,1042.5 1306.7,1045.5 1307.7,1048.9 C1308.7,1052.3 1310.1,1057.9 1310.5,1059.7  L1317.8,1062.3 L1302.5,1074.7 L1287.9,1055.1  L1294.9,1056.6 C1294.6,1055.0 1294.2,1050.3 1292.9,1046.8 C1291.7,1043.3 1289.0,1038.7 1287.3,1035.7 C1285.5,1032.8 1284.4,1031.4 1282.6,1029.1 C1280.8,1026.8 1279.1,1024.3 1276.6,1021.8 C1274.1,1019.3 1271.2,1016.6 1267.7,1013.9 C1264.3,1011.2 1259.9,1007.9 1255.9,1005.4 C1252.0,1002.9 1248.4,1001.0 1244.1,998.8 C1239.8,996.7 1232.4,993.5 1230.0,992.5 Z" fill="#fff" stroke="#8a8a8a" stroke-width="0.9" stroke-linejoin="round"/>
<text x="1385.0" y="1140.6" font-family='"Liberation Sans", sans-serif' font-size="23.3" text-anchor="middle" fill="#000" word-spacing="2.5">Transplanted into</text>
<text x="1387.7" y="1169.2" font-family='"Liberation Sans", sans-serif' font-size="23.3" text-anchor="middle" fill="#000" word-spacing="2.7">recipient testes</text>
<text x="2.9" y="324.2" font-family='"Liberation Sans", sans-serif' font-size="66.0" font-weight="bold" text-anchor="start" fill="#000">B</text>
<path d="M85.0,351.5V690.5H590.0" stroke="#000" stroke-width="2.4" fill="none"/>
<path d="M80.0,690.5H86.2" stroke="#000" stroke-width="2.4"/>
<text transform="translate(70.5,695.8) scale(0.970,1)" font-family='"Liberation Sans", sans-serif' font-size="16.0" font-weight="bold" text-anchor="end" fill="#000">0</text>
<path d="M80.0,634.2H86.2" stroke="#000" stroke-width="2.4"/>
<text transform="translate(70.5,639.5) scale(0.970,1)" font-family='"Liberation Sans", sans-serif' font-size="16.0" font-weight="bold" text-anchor="end" fill="#000">5</text>
<path d="M80.0,577.9H86.2" stroke="#000" stroke-width="2.4"/>
<text transform="translate(70.5,583.2) scale(0.970,1)" font-family='"Liberation Sans", sans-serif' font-size="16.0" font-weight="bold" text-anchor="end" fill="#000">10</text>
<path d="M80.0,521.6H86.2" stroke="#000" stroke-width="2.4"/>
<text transform="translate(70.5,526.9) scale(0.970,1)" font-family='"Liberation Sans", sans-serif' font-size="16.0" font-weight="bold" text-anchor="end" fill="#000">15</text>
<path d="M80.0,465.3H86.2" stroke="#000" stroke-width="2.4"/>
<text transform="translate(70.5,470.6) scale(0.970,1)" font-family='"Liberation Sans", sans-serif' font-size="16.0" font-weight="bold" text-anchor="end" fill="#000">20</text>
<path d="M80.0,409.0H86.2" stroke="#000" stroke-width="2.4"/>
<text transform="translate(70.5,414.3) scale(0.970,1)" font-family='"Liberation Sans", sans-serif' font-size="16.0" font-weight="bold" text-anchor="end" fill="#000">25</text>
<path d="M80.0,352.7H86.2" stroke="#000" stroke-width="2.4"/>
<text transform="translate(70.5,358.0) scale(0.970,1)" font-family='"Liberation Sans", sans-serif' font-size="16.0" font-weight="bold" text-anchor="end" fill="#000">30</text>
<path d="M148.0,690.5v5.5" stroke="#000" stroke-width="2.4"/>
<path d="M274.2,690.5v5.5" stroke="#000" stroke-width="2.4"/>
<path d="M400.3,690.5v5.5" stroke="#000" stroke-width="2.4"/>
<path d="M526.5,690.5v5.5" stroke="#000" stroke-width="2.4"/>
<polyline points="148.0,679.2 274.2,664.6 400.3,620.7 526.5,491.2" fill="none" stroke="#000" stroke-width="2.1"/>
<circle cx="148.0" cy="679.2" r="2.7" fill="#000"/>
<circle cx="274.2" cy="664.6" r="2.7" fill="#000"/>
<path d="M400.3,617.9V623.5 M396.7,617.9h7.2 M396.7,623.5h7.2" stroke="#000" stroke-width="2.0" fill="none"/>
<circle cx="400.3" cy="620.7" r="2.7" fill="#000"/>
<path d="M526.5,484.4V498.0 M522.9,484.4h7.2 M522.9,498.0h7.2" stroke="#000" stroke-width="2.0" fill="none"/>
<circle cx="526.5" cy="491.2" r="2.7" fill="#000"/>
<polyline points="148.0,679.2 274.2,663.5 400.3,618.4 526.5,455.2" fill="none" stroke="#0c0cc8" stroke-width="2.3"/>
<rect x="144.8" y="676.0" width="6.4" height="6.4" fill="#0c0cc8"/>
<path d="M274.2,661.2V665.7 M270.6,661.2h7.2 M270.6,665.7h7.2" stroke="#0c0cc8" stroke-width="2.0" fill="none"/>
<rect x="271.0" y="660.3" width="6.4" height="6.4" fill="#0c0cc8"/>
<path d="M400.3,613.9V622.9 M396.7,613.9h7.2 M396.7,622.9h7.2" stroke="#0c0cc8" stroke-width="2.0" fill="none"/>
<rect x="397.1" y="615.2" width="6.4" height="6.4" fill="#0c0cc8"/>
<path d="M526.5,445.0V465.3 M522.9,445.0h7.2 M522.9,465.3h7.2" stroke="#0c0cc8" stroke-width="2.0" fill="none"/>
<rect x="523.3" y="451.9" width="6.4" height="6.4" fill="#0c0cc8"/>
<polyline points="148.0,679.2 274.2,664.6 400.3,609.4 526.5,534.0" fill="none" stroke="#a01414" stroke-width="2.3"/>
<path d="M148.0,676.2 l3.0,5.2 h-6.0z" fill="#a01414"/>
<path d="M274.2,662.9V666.3 M270.6,662.9h7.2 M270.6,666.3h7.2" stroke="#a01414" stroke-width="2.0" fill="none"/>
<path d="M274.2,661.6 l3.0,5.2 h-6.0z" fill="#a01414"/>
<path d="M400.3,604.9V613.9 M396.7,604.9h7.2 M396.7,613.9h7.2" stroke="#a01414" stroke-width="2.0" fill="none"/>
<path d="M400.3,606.4 l3.0,5.2 h-6.0z" fill="#a01414"/>
<path d="M526.5,517.1V550.9 M522.9,517.1h7.2 M522.9,550.9h7.2" stroke="#a01414" stroke-width="2.0" fill="none"/>
<path d="M526.5,531.0 l3.0,5.2 h-6.0z" fill="#a01414"/>
<polyline points="148.0,679.2 274.2,686.6 400.3,689.4 526.5,690.2" fill="none" stroke="#1a7a1a" stroke-width="2.1"/>
<path d="M148.0,682.2 l3.0,-5.2 h-6.0z" fill="#1a7a1a"/>
<path d="M274.2,689.6 l3.0,-5.2 h-6.0z" fill="#1a7a1a"/>
<path d="M400.3,692.4 l3.0,-5.2 h-6.0z" fill="#1a7a1a"/>
<path d="M526.5,693.2 l3.0,-5.2 h-6.0z" fill="#1a7a1a"/>
<text x="541.5" y="461.0" font-family='"Liberation Sans", sans-serif' font-size="25.5" font-weight="bold" text-anchor="start" fill="#000">a</text>
<text x="541.5" y="499.4" font-family='"Liberation Sans", sans-serif' font-size="25.5" font-weight="bold" text-anchor="start" fill="#000">ab</text>
<text x="541.5" y="541.8" font-family='"Liberation Sans", sans-serif' font-size="25.5" font-weight="bold" text-anchor="start" fill="#000">b</text>
<text x="541.5" y="679.2" font-family='"Liberation Sans", sans-serif' font-size="25.5" font-weight="bold" text-anchor="start" fill="#000">c</text>
<path d="M215.0,346.2h21.5" stroke="#000" stroke-width="2.8"/>
<circle cx="225.8" cy="346.2" r="3.6" fill="#000"/>
<text x="248.2" y="355.6" font-family='"Liberation Sans", sans-serif' font-size="25.6" fill="#000">Control</text>
<path d="M215.0,380.6h21.5" stroke="#0c0cc8" stroke-width="2.8"/>
<rect x="221.4" y="376.3" width="8.6" height="8.6" fill="#0c0cc8"/>
<text x="249.0" y="389.3" font-family='"Liberation Sans", sans-serif' font-size="25.3" fill="#000">1 <tspan font-family='"Liberation Serif", serif' font-size="115%">μ</tspan>M BPA</text>
<path d="M392.8,349.6h21.5" stroke="#a01414" stroke-width="2.8"/>
<path d="M403.6,345.6 l4.0,7.0 h-8.0z" fill="#a01414"/>
<text x="427.0" y="357.8" font-family='"Liberation Sans", sans-serif' font-size="25.3" fill="#000">10 <tspan font-family='"Liberation Serif", serif' font-size="115%">μ</tspan>M BPA</text>
<path d="M392.8,384.2h21.5" stroke="#1a7a1a" stroke-width="2.8"/>
<path d="M403.6,388.2 l4.0,-7.0 h-8.0z" fill="#1a7a1a"/>
<text x="427.0" y="392.2" font-family='"Liberation Sans", sans-serif' font-size="25.3" fill="#000">100 <tspan font-family='"Liberation Serif", serif' font-size="115%">μ</tspan>M BPA</text>
<text transform="translate(40.1,656.3) rotate(-90) scale(0.940,1)" font-family='"Liberation Sans", sans-serif' font-size="34.0" font-weight="bold" text-anchor="start" fill="#000">Cell number&#160;&#160;x 10<tspan font-size="21" dy="-12">6</tspan></text>
<text transform="translate(144.5,724.5) rotate(-38.5)" font-family='"Liberation Sans", sans-serif' font-size="26.0" font-weight="bold" text-anchor="end" fill="#000">BPA</text>
<text transform="translate(186.0,728.0) rotate(-38.5)" font-family='"Liberation Sans", sans-serif' font-size="26.0" font-weight="bold" text-anchor="end" fill="#000">exposure</text>
<text transform="translate(283.8,733.5) rotate(-38.5)" font-family='"Liberation Sans", sans-serif' font-size="26.0" font-weight="bold" text-anchor="end" fill="#000">Week 1</text>
<text transform="translate(409.9,733.5) rotate(-38.5)" font-family='"Liberation Sans", sans-serif' font-size="26.0" font-weight="bold" text-anchor="end" fill="#000">Week 2</text>
<text transform="translate(536.1,733.5) rotate(-38.5)" font-family='"Liberation Sans", sans-serif' font-size="26.0" font-weight="bold" text-anchor="end" fill="#000">Week 3</text>
<text x="639.7" y="324.0" font-family='"Liberation Sans", sans-serif' font-size="66.0" font-weight="bold" text-anchor="start" fill="#000">C</text>
<rect x="761.5" y="481.7" width="81.7" height="203.5" fill="#000"/>
<path d="M802.4,481.7V448.2 M791.9,448.2h21.0" stroke="#000" stroke-width="2.3" fill="none"/>
<text x="802.4" y="434.8" font-family='"Liberation Sans", sans-serif' font-size="25.5" font-weight="bold" text-anchor="middle" fill="#000">a</text>
<rect x="881.0" y="540.6" width="81.6" height="144.6" fill="#000"/>
<path d="M921.8,540.6V525.3 M911.3,525.3h21.0" stroke="#000" stroke-width="2.3" fill="none"/>
<text x="921.8" y="511.5" font-family='"Liberation Sans", sans-serif' font-size="25.5" font-weight="bold" text-anchor="middle" fill="#000">a</text>
<rect x="1001.7" y="558.5" width="80.9" height="126.7" fill="#000"/>
<path d="M1042.2,558.5V538.0 M1031.7,538.0h21.0" stroke="#000" stroke-width="2.3" fill="none"/>
<text x="1042.2" y="527.5" font-family='"Liberation Sans", sans-serif' font-size="25.5" font-weight="bold" text-anchor="middle" fill="#000">a</text>
<path d="M742.4,406.3V685.2H1103.0" stroke="#000" stroke-width="2.1" fill="none"/>
<path d="M737.4,685.2H743.4" stroke="#000" stroke-width="2.1"/>
<text transform="translate(725.4,691.5) scale(0.800,1)" font-family='"Liberation Sans", sans-serif' font-size="20.5" font-weight="bold" text-anchor="end" fill="#000">0</text>
<path d="M737.4,629.6H743.4" stroke="#000" stroke-width="2.1"/>
<text transform="translate(725.4,635.9) scale(0.800,1)" font-family='"Liberation Sans", sans-serif' font-size="20.5" font-weight="bold" text-anchor="end" fill="#000">50</text>
<path d="M737.4,574.0H743.4" stroke="#000" stroke-width="2.1"/>
<text transform="translate(725.4,580.3) scale(0.800,1)" font-family='"Liberation Sans", sans-serif' font-size="20.5" font-weight="bold" text-anchor="end" fill="#000">100</text>
<path d="M737.4,518.5H743.4" stroke="#000" stroke-width="2.1"/>
<text transform="translate(725.4,524.7) scale(0.800,1)" font-family='"Liberation Sans", sans-serif' font-size="20.5" font-weight="bold" text-anchor="end" fill="#000">150</text>
<path d="M737.4,462.9H743.4" stroke="#000" stroke-width="2.1"/>
<text transform="translate(725.4,469.1) scale(0.800,1)" font-family='"Liberation Sans", sans-serif' font-size="20.5" font-weight="bold" text-anchor="end" fill="#000">200</text>
<path d="M737.4,407.3H743.4" stroke="#000" stroke-width="2.1"/>
<text transform="translate(725.4,413.6) scale(0.800,1)" font-family='"Liberation Sans", sans-serif' font-size="20.5" font-weight="bold" text-anchor="end" fill="#000">250</text>
<path d="M802.4,685.2v5.5" stroke="#000" stroke-width="2.1"/>
<text transform="translate(810.3,726.0) rotate(-38)" font-family='"Liberation Sans", sans-serif' font-size="26.0" font-weight="bold" text-anchor="end" fill="#000">Control</text>
<path d="M921.8,685.2v5.5" stroke="#000" stroke-width="2.1"/>
<text transform="translate(934.0,723.6) rotate(-38)" font-family='"Liberation Sans", sans-serif' font-size="26.0" font-weight="bold" text-anchor="end" fill="#000">1 μM BPA</text>
<path d="M1042.2,685.2v5.5" stroke="#000" stroke-width="2.1"/>
<text transform="translate(1061.2,723.6) rotate(-38)" font-family='"Liberation Sans", sans-serif' font-size="26.0" font-weight="bold" text-anchor="end" fill="#000">10 μM BPA</text>
<text transform="translate(656.2,676.2) rotate(-90)" font-family='"Liberation Sans", sans-serif' font-size="26.4" font-weight="bold" text-anchor="start" fill="#000">Colonies / 10<tspan font-size="16" dy="-9">5</tspan><tspan dy="9">&#160;&#160;cells</tspan></text>
<text transform="translate(687.6,630.3) rotate(-90)" font-family='"Liberation Sans", sans-serif' font-size="26.8" font-weight="bold" text-anchor="start" fill="#000">transplanted</text>
<text x="1177.6" y="324.0" font-family='"Liberation Sans", sans-serif' font-size="66.0" font-weight="bold" text-anchor="start" fill="#000">D</text>
<rect x="1277.3" y="500.6" width="78.7" height="186.2" fill="#000"/>
<path d="M1316.7,500.6V469.3 M1306.2,469.3h21.0" stroke="#000" stroke-width="2.3" fill="none"/>
<text x="1316.7" y="456.0" font-family='"Liberation Sans", sans-serif' font-size="25.5" font-weight="bold" text-anchor="middle" fill="#000">ab</text>
<rect x="1394.0" y="469.5" width="78.6" height="217.3" fill="#000"/>
<path d="M1433.3,469.5V445.3 M1422.8,445.3h21.0" stroke="#000" stroke-width="2.3" fill="none"/>
<text x="1433.3" y="432.5" font-family='"Liberation Sans", sans-serif' font-size="25.5" font-weight="bold" text-anchor="middle" fill="#000">a</text>
<rect x="1511.7" y="559.5" width="78.3" height="127.3" fill="#000"/>
<path d="M1550.8,559.5V538.0 M1540.3,538.0h21.0" stroke="#000" stroke-width="2.3" fill="none"/>
<text x="1550.8" y="525.5" font-family='"Liberation Sans", sans-serif' font-size="25.5" font-weight="bold" text-anchor="middle" fill="#000">b</text>
<path d="M1258.4,408.9V686.8H1611.0" stroke="#000" stroke-width="2.1" fill="none"/>
<path d="M1253.4,686.8H1259.5" stroke="#000" stroke-width="2.1"/>
<text transform="translate(1242.4,693.1) scale(0.800,1)" font-family='"Liberation Sans", sans-serif' font-size="20.5" font-weight="bold" text-anchor="end" fill="#000">0</text>
<path d="M1253.4,640.6H1259.5" stroke="#000" stroke-width="2.1"/>
<text transform="translate(1242.4,646.9) scale(0.800,1)" font-family='"Liberation Sans", sans-serif' font-size="20.5" font-weight="bold" text-anchor="end" fill="#000">250</text>
<path d="M1253.4,594.5H1259.5" stroke="#000" stroke-width="2.1"/>
<text transform="translate(1242.4,600.8) scale(0.800,1)" font-family='"Liberation Sans", sans-serif' font-size="20.5" font-weight="bold" text-anchor="end" fill="#000">500</text>
<path d="M1253.4,548.3H1259.5" stroke="#000" stroke-width="2.1"/>
<text transform="translate(1242.4,554.6) scale(0.800,1)" font-family='"Liberation Sans", sans-serif' font-size="20.5" font-weight="bold" text-anchor="end" fill="#000">750</text>
<path d="M1253.4,502.2H1259.5" stroke="#000" stroke-width="2.1"/>
<text transform="translate(1242.4,508.5) scale(0.800,1)" font-family='"Liberation Sans", sans-serif' font-size="20.5" font-weight="bold" text-anchor="end" fill="#000">1000</text>
<path d="M1253.4,456.0H1259.5" stroke="#000" stroke-width="2.1"/>
<text transform="translate(1242.4,462.3) scale(0.800,1)" font-family='"Liberation Sans", sans-serif' font-size="20.5" font-weight="bold" text-anchor="end" fill="#000">1250</text>
<path d="M1253.4,409.9H1259.5" stroke="#000" stroke-width="2.1"/>
<text transform="translate(1242.4,416.2) scale(0.800,1)" font-family='"Liberation Sans", sans-serif' font-size="20.5" font-weight="bold" text-anchor="end" fill="#000">1500</text>
<path d="M1316.7,686.8v5.5" stroke="#000" stroke-width="2.1"/>
<text transform="translate(1325.8,723.3) rotate(-38)" font-family='"Liberation Sans", sans-serif' font-size="26.0" font-weight="bold" text-anchor="end" fill="#000">Control</text>
<path d="M1433.3,686.8v5.5" stroke="#000" stroke-width="2.1"/>
<text transform="translate(1448.0,723.3) rotate(-38)" font-family='"Liberation Sans", sans-serif' font-size="26.0" font-weight="bold" text-anchor="end" fill="#000">1 μM BPA</text>
<path d="M1550.8,686.8v5.5" stroke="#000" stroke-width="2.1"/>
<text transform="translate(1575.4,720.0) rotate(-38)" font-family='"Liberation Sans", sans-serif' font-size="26.0" font-weight="bold" text-anchor="end" fill="#000">10 μM BPA</text>
<text transform="translate(1167.0,695.3) rotate(-90)" font-family='"Liberation Sans", sans-serif' font-size="26.5" font-weight="bold" text-anchor="start" fill="#000">Colonies / Total number</text>
<text transform="translate(1198.8,635.7) rotate(-90)" font-family='"Liberation Sans", sans-serif' font-size="26.5" font-weight="bold" text-anchor="start" fill="#000">of cell cultured</text>
<text x="3.5" y="1309.0" font-family='"Liberation Sans", sans-serif' font-size="66.0" font-weight="bold" text-anchor="start" fill="#000">F</text>
<path d="M79.5,1330.6V1720.2H582.0" stroke="#000" stroke-width="2.5" fill="none"/>
<path d="M73.5,1720.2H80.8" stroke="#000" stroke-width="2.5"/>
<text transform="translate(65.5,1726.1) scale(0.850,1)" font-family='"Liberation Sans", sans-serif' font-size="18.0" font-weight="bold" text-anchor="end" fill="#000">0</text>
<path d="M73.5,1623.1H80.8" stroke="#000" stroke-width="2.5"/>
<text transform="translate(65.5,1629.0) scale(0.850,1)" font-family='"Liberation Sans", sans-serif' font-size="18.0" font-weight="bold" text-anchor="end" fill="#000">2</text>
<path d="M73.5,1526.0H80.8" stroke="#000" stroke-width="2.5"/>
<text transform="translate(65.5,1531.9) scale(0.850,1)" font-family='"Liberation Sans", sans-serif' font-size="18.0" font-weight="bold" text-anchor="end" fill="#000">4</text>
<path d="M73.5,1428.9H80.8" stroke="#000" stroke-width="2.5"/>
<text transform="translate(65.5,1434.8) scale(0.850,1)" font-family='"Liberation Sans", sans-serif' font-size="18.0" font-weight="bold" text-anchor="end" fill="#000">6</text>
<path d="M73.5,1331.8H80.8" stroke="#000" stroke-width="2.5"/>
<text transform="translate(65.5,1337.7) scale(0.850,1)" font-family='"Liberation Sans", sans-serif' font-size="18.0" font-weight="bold" text-anchor="end" fill="#000">8</text>
<path d="M141.8,1720.2v6.5" stroke="#000" stroke-width="2.5"/>
<path d="M266.4,1720.2v6.5" stroke="#000" stroke-width="2.5"/>
<path d="M392.7,1720.2v6.5" stroke="#000" stroke-width="2.5"/>
<path d="M518.6,1720.2v6.5" stroke="#000" stroke-width="2.5"/>
<polyline points="141.8,1711.5 266.4,1692.0 392.7,1656.1 518.6,1429.4" fill="none" stroke="#000" stroke-width="2.4"/>
<circle cx="141.8" cy="1711.5" r="3.1" fill="#000"/>
<path d="M266.4,1682.3V1701.8 M262.4,1682.3h8.0 M262.4,1701.8h8.0" stroke="#000" stroke-width="1.5" fill="none"/>
<circle cx="266.4" cy="1692.0" r="3.1" fill="#000"/>
<path d="M392.7,1651.3V1661.0 M388.7,1651.3h8.0 M388.7,1661.0h8.0" stroke="#000" stroke-width="1.5" fill="none"/>
<circle cx="392.7" cy="1656.1" r="3.1" fill="#000"/>
<path d="M518.6,1419.2V1439.6 M514.6,1419.2h8.0 M514.6,1439.6h8.0" stroke="#000" stroke-width="1.5" fill="none"/>
<circle cx="518.6" cy="1429.4" r="3.1" fill="#000"/>
<polyline points="141.8,1711.5 266.4,1696.9 392.7,1646.4 518.6,1573.6" fill="none" stroke="#1010c0" stroke-width="2.9"/>
<rect x="138.1" y="1707.8" width="7.4" height="7.4" fill="#1010c0"/>
<path d="M266.4,1689.6V1704.2 M262.4,1689.6h8.0 M262.4,1704.2h8.0" stroke="#1010c0" stroke-width="1.5" fill="none"/>
<rect x="262.7" y="1693.2" width="7.4" height="7.4" fill="#1010c0"/>
<path d="M392.7,1627.0V1665.8 M388.7,1627.0h8.0 M388.7,1665.8h8.0" stroke="#1010c0" stroke-width="1.5" fill="none"/>
<rect x="389.0" y="1642.7" width="7.4" height="7.4" fill="#1010c0"/>
<path d="M518.6,1549.3V1597.9 M514.6,1549.3h8.0 M514.6,1597.9h8.0" stroke="#1010c0" stroke-width="1.5" fill="none"/>
<rect x="514.9" y="1569.9" width="7.4" height="7.4" fill="#1010c0"/>
<text x="519.5" y="1551.3" font-family='"Liberation Sans", sans-serif' font-size="42.0" font-weight="bold" text-anchor="middle" fill="#000">***</text>
<path d="M339.0,1323.0h24.0" stroke="#000" stroke-width="2.8"/>
<circle cx="351.0" cy="1323.0" r="3.6" fill="#000"/>
<text x="376.0" y="1331.8" font-family='"Liberation Sans", sans-serif' font-size="27.8" fill="#000">Control</text>
<path d="M341.5,1369.0h23.0" stroke="#1010c0" stroke-width="2.8"/>
<rect x="347.5" y="1363.8" width="11" height="10.4" fill="#1010c0"/>
<text x="379.0" y="1378.5" font-family='"Liberation Sans", sans-serif' font-size="27.1" fill="#000">100 <tspan font-family='"Liberation Serif", serif' font-size="115%">μ</tspan>M_recovery</text>
<text transform="translate(42.2,1669.3) rotate(-90) scale(0.910,1)" font-family='"Liberation Sans", sans-serif' font-size="35.7" font-weight="bold" text-anchor="start" fill="#000">Cell number&#160;&#160;x 10<tspan font-size="22" dy="-12.5">6</tspan></text>
<text transform="translate(153.6,1752.7) rotate(-38)" font-family='"Liberation Sans", sans-serif' font-size="26.5" font-weight="bold" text-anchor="end" fill="#000">Without</text>
<text transform="translate(156.4,1791.0) rotate(-38)" font-family='"Liberation Sans", sans-serif' font-size="26.5" font-weight="bold" text-anchor="end" fill="#000">BPA</text>
<text transform="translate(279.1,1762.7) rotate(-38)" font-family='"Liberation Sans", sans-serif' font-size="26.0" font-weight="bold" text-anchor="end" fill="#000">Week 1</text>
<text transform="translate(405.4,1762.7) rotate(-38)" font-family='"Liberation Sans", sans-serif' font-size="26.0" font-weight="bold" text-anchor="end" fill="#000">Week 2</text>
<text transform="translate(531.3,1762.7) rotate(-38)" font-family='"Liberation Sans", sans-serif' font-size="26.0" font-weight="bold" text-anchor="end" fill="#000">Week 3</text>
<text x="639.0" y="1309.5" font-family='"Liberation Sans", sans-serif' font-size="66.0" font-weight="bold" text-anchor="start" fill="#000">G</text>
<rect x="839.0" y="1580.6" width="75.5" height="137.6" fill="#000"/>
<path d="M876.8,1580.6V1561.0 M873.0,1561.0h7.6" stroke="#000" stroke-width="1.2" fill="none"/>
<rect x="963.6" y="1499.5" width="76.4" height="218.7" fill="#000"/>
<path d="M1001.8,1499.5V1480.0 M998.0,1480.0h7.6" stroke="#000" stroke-width="1.2" fill="none"/>
<path d="M752.7,1435.4V1718.2H1126.0" stroke="#444" stroke-width="1.3" fill="none"/>
<path d="M747.7,1718.2H753.4" stroke="#444" stroke-width="1.3"/>
<text transform="translate(737.3,1725.0) scale(1.000,1)" font-family='"Liberation Sans", sans-serif' font-size="19.0" font-weight="bold" text-anchor="end" fill="#000">0</text>
<path d="M747.7,1647.8H753.4" stroke="#444" stroke-width="1.3"/>
<text transform="translate(737.3,1654.5) scale(1.000,1)" font-family='"Liberation Sans", sans-serif' font-size="19.0" font-weight="bold" text-anchor="end" fill="#000">100</text>
<path d="M747.7,1577.3H753.4" stroke="#444" stroke-width="1.3"/>
<text transform="translate(737.3,1584.1) scale(1.000,1)" font-family='"Liberation Sans", sans-serif' font-size="19.0" font-weight="bold" text-anchor="end" fill="#000">200</text>
<path d="M747.7,1506.9H753.4" stroke="#444" stroke-width="1.3"/>
<text transform="translate(737.3,1513.6) scale(1.000,1)" font-family='"Liberation Sans", sans-serif' font-size="19.0" font-weight="bold" text-anchor="end" fill="#000">300</text>
<path d="M747.7,1436.4H753.4" stroke="#444" stroke-width="1.3"/>
<text transform="translate(737.3,1443.2) scale(1.000,1)" font-family='"Liberation Sans", sans-serif' font-size="19.0" font-weight="bold" text-anchor="end" fill="#000">400</text>
<path d="M876.8,1718.2v5.5" stroke="#444" stroke-width="1.3"/>
<text transform="translate(890.0,1752.7) rotate(-39.5)" font-family='"Liberation Sans", sans-serif' font-size="26.6" font-weight="bold" text-anchor="end" fill="#000">Control</text>
<path d="M1001.8,1718.2v5.5" stroke="#444" stroke-width="1.3"/>
<text transform="translate(1018.2,1750.0) rotate(-39.5)" font-family='"Liberation Sans", sans-serif' font-size="26.6" font-weight="bold" text-anchor="end" fill="#000">Recovered</text>
<text x="1000.8" y="1481.0" font-family='"Liberation Sans", sans-serif' font-size="40.0" font-weight="bold" text-anchor="middle" fill="#000">*</text>
<text transform="translate(666.0,1702.2) rotate(-90)" font-family='"Liberation Sans", sans-serif' font-size="26.5" font-weight="bold" text-anchor="start" fill="#000">Colonies / 10<tspan font-size="16" dy="-9">5</tspan><tspan dy="9">&#160;&#160;cells</tspan></text>
<text transform="translate(698.3,1657.0) rotate(-90)" font-family='"Liberation Sans", sans-serif' font-size="27.0" font-weight="bold" text-anchor="start" fill="#000">transplanted</text>
<text x="1179.0" y="1309.5" font-family='"Liberation Sans", sans-serif' font-size="66.0" font-weight="bold" text-anchor="start" fill="#000">H</text>
<rect x="1355.5" y="1513.0" width="75.8" height="203.7" fill="#000"/>
<path d="M1393.4,1513.0V1483.4 M1389.6,1483.4h7.6" stroke="#000" stroke-width="1.2" fill="none"/>
<rect x="1481.5" y="1580.5" width="77.0" height="136.2" fill="#000"/>
<path d="M1520.0,1580.5V1568.0 M1516.2,1568.0h7.6" stroke="#000" stroke-width="1.2" fill="none"/>
<path d="M1267.0,1429.0V1716.7H1650.0" stroke="#444" stroke-width="1.3" fill="none"/>
<path d="M1262.0,1716.7H1267.7" stroke="#444" stroke-width="1.3"/>
<text transform="translate(1251.6,1723.5) scale(1.000,1)" font-family='"Liberation Sans", sans-serif' font-size="19.0" font-weight="bold" text-anchor="end" fill="#000">0</text>
<path d="M1262.0,1659.4H1267.7" stroke="#444" stroke-width="1.3"/>
<text transform="translate(1251.6,1666.1) scale(1.000,1)" font-family='"Liberation Sans", sans-serif' font-size="19.0" font-weight="bold" text-anchor="end" fill="#000">500</text>
<path d="M1262.0,1602.0H1267.7" stroke="#444" stroke-width="1.3"/>
<text transform="translate(1251.6,1608.8) scale(1.000,1)" font-family='"Liberation Sans", sans-serif' font-size="19.0" font-weight="bold" text-anchor="end" fill="#000">1000</text>
<path d="M1262.0,1544.7H1267.7" stroke="#444" stroke-width="1.3"/>
<text transform="translate(1251.6,1551.5) scale(1.000,1)" font-family='"Liberation Sans", sans-serif' font-size="19.0" font-weight="bold" text-anchor="end" fill="#000">1500</text>
<path d="M1262.0,1487.3H1267.7" stroke="#444" stroke-width="1.3"/>
<text transform="translate(1251.6,1494.1) scale(1.000,1)" font-family='"Liberation Sans", sans-serif' font-size="19.0" font-weight="bold" text-anchor="end" fill="#000">2000</text>
<path d="M1262.0,1430.0H1267.7" stroke="#444" stroke-width="1.3"/>
<text transform="translate(1251.6,1436.8) scale(1.000,1)" font-family='"Liberation Sans", sans-serif' font-size="19.0" font-weight="bold" text-anchor="end" fill="#000">2500</text>
<path d="M1393.4,1716.7v5.5" stroke="#444" stroke-width="1.3"/>
<text transform="translate(1406.4,1749.0) rotate(-39.5)" font-family='"Liberation Sans", sans-serif' font-size="26.6" font-weight="bold" text-anchor="end" fill="#000">Control</text>
<path d="M1520.0,1716.7v5.5" stroke="#444" stroke-width="1.3"/>
<text transform="translate(1541.0,1744.5) rotate(-39.5)" font-family='"Liberation Sans", sans-serif' font-size="26.6" font-weight="bold" text-anchor="end" fill="#000">Recovered</text>
<text transform="translate(1164.9,1718.4) rotate(-90)" font-family='"Liberation Sans", sans-serif' font-size="26.7" font-weight="bold" text-anchor="start" fill="#000">Colonies / Total number</text>
<text transform="translate(1196.4,1659.9) rotate(-90)" font-family='"Liberation Sans", sans-serif' font-size="26.8" font-weight="bold" text-anchor="start" fill="#000">of cell cultured</text>
</svg>
</body></html>
